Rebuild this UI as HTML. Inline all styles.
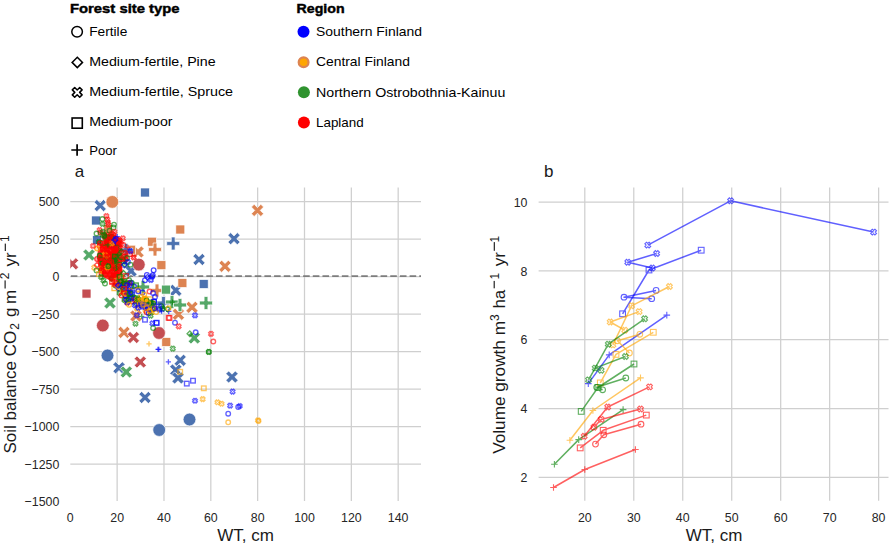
<!DOCTYPE html><html><head><meta charset="utf-8"><style>html,body{margin:0;padding:0;background:#fff;overflow:hidden}svg{display:block}text{font-family:"Liberation Sans",sans-serif}</style></head><body>
<svg width="890" height="543" viewBox="0 0 890 543">
<rect width="890" height="543" fill="#fff"/>
<g font-family="Liberation Sans, sans-serif" fill="#000">
<text x="70" y="12.9" font-size="13.3" font-weight="bold" stroke="#000" stroke-width="0.45" textLength="109.5" lengthAdjust="spacingAndGlyphs">Forest site type</text>
<text x="296.6" y="12.9" font-size="13.3" font-weight="bold" stroke="#000" stroke-width="0.45" textLength="48" lengthAdjust="spacingAndGlyphs">Region</text>
<text x="89.2" y="36.2" font-size="13.1" textLength="38.1" lengthAdjust="spacingAndGlyphs">Fertile</text>
<text x="89.2" y="65.9" font-size="13.1" textLength="126.4" lengthAdjust="spacingAndGlyphs">Medium-fertile, Pine</text>
<text x="89.2" y="95.5" font-size="13.1" textLength="143.9" lengthAdjust="spacingAndGlyphs">Medium-fertile, Spruce</text>
<text x="89.2" y="126.2" font-size="13.1" textLength="83.3" lengthAdjust="spacingAndGlyphs">Medium-poor</text>
<text x="89.2" y="154.8" font-size="13.1" textLength="27.7" lengthAdjust="spacingAndGlyphs">Poor</text>
<text x="316" y="36.2" font-size="13.1" textLength="106" lengthAdjust="spacingAndGlyphs">Southern Finland</text>
<text x="316" y="66.3" font-size="13.1" textLength="93.9" lengthAdjust="spacingAndGlyphs">Central Finland</text>
<text x="316" y="96.5" font-size="13.1" textLength="189.3" lengthAdjust="spacingAndGlyphs">Northern Ostrobothnia-Kainuu</text>
<text x="316" y="126.6" font-size="13.1" textLength="47.7" lengthAdjust="spacingAndGlyphs">Lapland</text>
</g>
<circle cx="77.1" cy="31.8" r="5.3" fill="none" stroke="#000" stroke-width="1.5"/>
<polygon points="77.3,57.2 82.5,62.4 77.3,67.6 72.1,62.4" fill="none" stroke="#000" stroke-width="1.5"/>
<polygon points="79.7,87.5 82.1,89.9 79.6,92.4 82.1,94.9 79.7,97.3 77.2,94.8 74.7,97.3 72.3,94.9 74.8,92.4 72.3,89.9 74.7,87.5 77.2,90" fill="none" stroke="#000" stroke-width="1.5" stroke-linejoin="round"/>
<rect x="72.1" y="118" width="10.2" height="10.2" fill="none" stroke="#000" stroke-width="1.6"/>
<path d="M71.3 150H82.9M77.1 144.2V155.8" stroke="#000" stroke-width="1.7" fill="none"/>
<circle cx="303.5" cy="31.7" r="6" fill="#0000ff"/>
<circle cx="303.6" cy="62.3" r="4.9" fill="#ffa500" stroke="#dd8452" stroke-width="2.2"/>
<circle cx="303.9" cy="92.3" r="6" fill="#2f932f"/>
<circle cx="303.9" cy="122.4" r="6" fill="#ff0000"/>
<g stroke="#cfcfcf" stroke-width="1.25" fill="none">
<line x1="117.14" y1="187.5" x2="117.14" y2="501"/>
<line x1="163.98" y1="187.5" x2="163.98" y2="501"/>
<line x1="210.82" y1="187.5" x2="210.82" y2="501"/>
<line x1="257.66" y1="187.5" x2="257.66" y2="501"/>
<line x1="304.5" y1="187.5" x2="304.5" y2="501"/>
<line x1="351.34" y1="187.5" x2="351.34" y2="501"/>
<line x1="398.18" y1="187.5" x2="398.18" y2="501"/>
<line x1="70.3" y1="464.1" x2="421" y2="464.1"/>
<line x1="70.3" y1="426.6" x2="421" y2="426.6"/>
<line x1="70.3" y1="389.1" x2="421" y2="389.1"/>
<line x1="70.3" y1="351.6" x2="421" y2="351.6"/>
<line x1="70.3" y1="314.1" x2="421" y2="314.1"/>
<line x1="70.3" y1="276.6" x2="421" y2="276.6"/>
<line x1="70.3" y1="239.1" x2="421" y2="239.1"/>
<line x1="70.3" y1="201.6" x2="421" y2="201.6"/>
</g>
<g stroke="#cfcfcf" stroke-width="1.25" fill="none">
<line x1="584.8" y1="187.5" x2="584.8" y2="500.8"/>
<line x1="633.77" y1="187.5" x2="633.77" y2="500.8"/>
<line x1="682.74" y1="187.5" x2="682.74" y2="500.8"/>
<line x1="731.71" y1="187.5" x2="731.71" y2="500.8"/>
<line x1="780.68" y1="187.5" x2="780.68" y2="500.8"/>
<line x1="829.65" y1="187.5" x2="829.65" y2="500.8"/>
<line x1="878.62" y1="187.5" x2="878.62" y2="500.8"/>
<line x1="538.6" y1="477.38" x2="888.5" y2="477.38"/>
<line x1="538.6" y1="408.56" x2="888.5" y2="408.56"/>
<line x1="538.6" y1="339.74" x2="888.5" y2="339.74"/>
<line x1="538.6" y1="270.92" x2="888.5" y2="270.92"/>
<line x1="538.6" y1="202.1" x2="888.5" y2="202.1"/>
</g>
<g font-size="13.3" fill="#262626" font-family="Liberation Sans, sans-serif">
<text x="66.86" y="521.9" textLength="6.88" lengthAdjust="spacingAndGlyphs">0</text>
<text x="110.26" y="521.9" textLength="13.76" lengthAdjust="spacingAndGlyphs">20</text>
<text x="157.1" y="521.9" textLength="13.76" lengthAdjust="spacingAndGlyphs">40</text>
<text x="203.94" y="521.9" textLength="13.76" lengthAdjust="spacingAndGlyphs">60</text>
<text x="250.78" y="521.9" textLength="13.76" lengthAdjust="spacingAndGlyphs">80</text>
<text x="294.18" y="521.9" textLength="20.64" lengthAdjust="spacingAndGlyphs">100</text>
<text x="341.02" y="521.9" textLength="20.64" lengthAdjust="spacingAndGlyphs">120</text>
<text x="387.86" y="521.9" textLength="20.64" lengthAdjust="spacingAndGlyphs">140</text>
<text x="24.56" y="506.3" textLength="34.74" lengthAdjust="spacingAndGlyphs">−1500</text>
<text x="24.56" y="468.8" textLength="34.74" lengthAdjust="spacingAndGlyphs">−1250</text>
<text x="24.56" y="431.3" textLength="34.74" lengthAdjust="spacingAndGlyphs">−1000</text>
<text x="31.44" y="393.8" textLength="27.86" lengthAdjust="spacingAndGlyphs">−750</text>
<text x="31.44" y="356.3" textLength="27.86" lengthAdjust="spacingAndGlyphs">−500</text>
<text x="31.44" y="318.8" textLength="27.86" lengthAdjust="spacingAndGlyphs">−250</text>
<text x="52.42" y="281.3" textLength="6.88" lengthAdjust="spacingAndGlyphs">0</text>
<text x="38.66" y="243.8" textLength="20.64" lengthAdjust="spacingAndGlyphs">250</text>
<text x="38.66" y="206.3" textLength="20.64" lengthAdjust="spacingAndGlyphs">500</text>
<text x="577.92" y="521.9" textLength="13.76" lengthAdjust="spacingAndGlyphs">20</text>
<text x="626.89" y="521.9" textLength="13.76" lengthAdjust="spacingAndGlyphs">30</text>
<text x="675.86" y="521.9" textLength="13.76" lengthAdjust="spacingAndGlyphs">40</text>
<text x="724.83" y="521.9" textLength="13.76" lengthAdjust="spacingAndGlyphs">50</text>
<text x="773.8" y="521.9" textLength="13.76" lengthAdjust="spacingAndGlyphs">60</text>
<text x="822.77" y="521.9" textLength="13.76" lengthAdjust="spacingAndGlyphs">70</text>
<text x="871.74" y="521.9" textLength="13.76" lengthAdjust="spacingAndGlyphs">80</text>
<text x="520.52" y="482.08" textLength="6.88" lengthAdjust="spacingAndGlyphs">2</text>
<text x="520.52" y="413.26" textLength="6.88" lengthAdjust="spacingAndGlyphs">4</text>
<text x="520.52" y="344.44" textLength="6.88" lengthAdjust="spacingAndGlyphs">6</text>
<text x="520.52" y="275.62" textLength="6.88" lengthAdjust="spacingAndGlyphs">8</text>
<text x="513.64" y="206.8" textLength="13.76" lengthAdjust="spacingAndGlyphs">10</text>
</g>
<g font-size="17" fill="#1a1a1a" font-family="Liberation Sans, sans-serif">
<text x="245.6" y="540.8" text-anchor="middle">WT, cm</text>
<text x="714" y="540.8" text-anchor="middle">WT, cm</text>
<text x="74.8" y="176.8">a</text>
<text x="544" y="176.8">b</text>
<g transform="translate(15.8,453.6) rotate(-90)">
<text x="0" y="0" font-size="17">Soil balance CO</text>
<text x="123.8" y="3.5" font-size="12">2</text>
<text x="136.6" y="0" font-size="17">g</text>
<text x="149.6" y="0" font-size="17">m</text>
<rect x="165.1" y="-11.27" width="8.1" height="1.15" fill="#1a1a1a"/>
<text x="174.4" y="-6.6" font-size="12">2</text>
<text x="187" y="0" font-size="17">yr</text>
<rect x="202.6" y="-11.07" width="7.4" height="1.15" fill="#1a1a1a"/>
<text x="211.5" y="-6.6" font-size="12">1</text>
</g>
<g transform="translate(505.3,453.8) rotate(-90)">
<text x="0" y="0" font-size="17.2">Volume growth m</text>
<text x="132.9" y="-6.1" font-size="12">3</text>
<text x="145.2" y="0" font-size="17">ha</text>
<rect x="165.5" y="-11.67" width="7.4" height="1.15" fill="#1a1a1a"/>
<text x="174.4" y="-6.1" font-size="12">1</text>
<text x="187.6" y="0" font-size="17">yr</text>
<rect x="203" y="-11.57" width="8.7" height="1.15" fill="#1a1a1a"/>
<text x="211.2" y="-6.1" font-size="12">1</text>
</g>
</g>
<svg x="70.3" y="187.5" width="350.7" height="313.5" viewBox="70.3 187.5 350.7 313.5" overflow="hidden">
<line x1="70.8" y1="276.1" x2="421" y2="276.1" stroke="#7d7d7d" stroke-width="1.85" stroke-dasharray="6.6 3.08"/>
<polygon points="103.54,199.5 106.3,202.26 102.96,205.6 106.3,208.94 103.54,211.7 100.2,208.36 96.86,211.7 94.1,208.94 97.44,205.6 94.1,202.26 96.86,199.5 100.2,202.84" fill="#4c72b0" stroke="#fff" stroke-width="0.7"/>
<rect x="140.5" y="188" width="9" height="9" fill="#4c72b0" stroke="#fff" stroke-width="0.7"/>
<rect x="91.5" y="216" width="9" height="9" fill="#4c72b0" stroke="#fff" stroke-width="0.7"/>
<rect x="92.5" y="235.5" width="9" height="9" fill="#4c72b0" stroke="#fff" stroke-width="0.7"/>
<polygon points="171.3,237 175.1,237 175.1,241.6 179.7,241.6 179.7,245.4 175.1,245.4 175.1,250 171.3,250 171.3,245.4 166.7,245.4 166.7,241.6 171.3,241.6" fill="#4c72b0" stroke="#fff" stroke-width="0.7"/>
<polygon points="237.34,232.6 240.1,235.36 236.76,238.7 240.1,242.04 237.34,244.8 234,241.46 230.66,244.8 227.9,242.04 231.24,238.7 227.9,235.36 230.66,232.6 234,235.94" fill="#4c72b0" stroke="#fff" stroke-width="0.7"/>
<polygon points="202.34,253.4 205.1,256.16 201.76,259.5 205.1,262.84 202.34,265.6 199,262.26 195.66,265.6 192.9,262.84 196.24,259.5 192.9,256.16 195.66,253.4 199,256.74" fill="#4c72b0" stroke="#fff" stroke-width="0.7"/>
<rect x="199.2" y="279.5" width="9" height="9" fill="#4c72b0" stroke="#fff" stroke-width="0.7"/>
<polygon points="179.14,284.2 181.9,286.96 178.56,290.3 181.9,293.64 179.14,296.4 175.8,293.06 172.46,296.4 169.7,293.64 173.04,290.3 169.7,286.96 172.46,284.2 175.8,287.54" fill="#4c72b0" stroke="#fff" stroke-width="0.7"/>
<circle cx="107.5" cy="355.5" r="6.4" fill="#4c72b0" stroke="#fff" stroke-width="0.7"/>
<polygon points="122.34,361.7 125.1,364.46 121.76,367.8 125.1,371.14 122.34,373.9 119,370.56 115.66,373.9 112.9,371.14 116.24,367.8 112.9,364.46 115.66,361.7 119,365.04" fill="#4c72b0" stroke="#fff" stroke-width="0.7"/>
<polygon points="148.34,391.4 151.1,394.16 147.76,397.5 151.1,400.84 148.34,403.6 145,400.26 141.66,403.6 138.9,400.84 142.24,397.5 138.9,394.16 141.66,391.4 145,394.74" fill="#4c72b0" stroke="#fff" stroke-width="0.7"/>
<polygon points="183.54,354.2 186.3,356.96 182.96,360.3 186.3,363.64 183.54,366.4 180.2,363.06 176.86,366.4 174.1,363.64 177.44,360.3 174.1,356.96 176.86,354.2 180.2,357.54" fill="#4c72b0" stroke="#fff" stroke-width="0.7"/>
<polygon points="179.14,363.9 181.9,366.66 178.56,370 181.9,373.34 179.14,376.1 175.8,372.76 172.46,376.1 169.7,373.34 173.04,370 169.7,366.66 172.46,363.9 175.8,367.24" fill="#4c72b0" stroke="#fff" stroke-width="0.7"/>
<polygon points="181.34,371.9 184.1,374.66 180.76,378 184.1,381.34 181.34,384.1 178,380.76 174.66,384.1 171.9,381.34 175.24,378 171.9,374.66 174.66,371.9 178,375.24" fill="#4c72b0" stroke="#fff" stroke-width="0.7"/>
<polygon points="235.34,370.9 238.1,373.66 234.76,377 238.1,380.34 235.34,383.1 232,379.76 228.66,383.1 225.9,380.34 229.24,377 225.9,373.66 228.66,370.9 232,374.24" fill="#4c72b0" stroke="#fff" stroke-width="0.7"/>
<circle cx="159.2" cy="430" r="6.4" fill="#4c72b0" stroke="#fff" stroke-width="0.7"/>
<circle cx="189.5" cy="419.5" r="6.4" fill="#4c72b0" stroke="#fff" stroke-width="0.7"/>
<polygon points="134.34,264.9 137.1,267.66 133.76,271 137.1,274.34 134.34,277.1 131,273.76 127.66,277.1 124.9,274.34 128.24,271 124.9,267.66 127.66,264.9 131,268.24" fill="#4c72b0" stroke="#fff" stroke-width="0.7"/>
<circle cx="112.3" cy="201.9" r="6.4" fill="#dd8452" stroke="#fff" stroke-width="0.7"/>
<polygon points="260.84,204.3 263.6,207.06 260.26,210.4 263.6,213.74 260.84,216.5 257.5,213.16 254.16,216.5 251.4,213.74 254.74,210.4 251.4,207.06 254.16,204.3 257.5,207.64" fill="#dd8452" stroke="#fff" stroke-width="0.7"/>
<rect x="175.8" y="225" width="9" height="9" fill="#dd8452" stroke="#fff" stroke-width="0.7"/>
<rect x="147.5" y="237.2" width="9" height="9" fill="#dd8452" stroke="#fff" stroke-width="0.7"/>
<polygon points="153.1,243 156.9,243 156.9,247.6 161.5,247.6 161.5,251.4 156.9,251.4 156.9,256 153.1,256 153.1,251.4 148.5,251.4 148.5,247.6 153.1,247.6" fill="#dd8452" stroke="#fff" stroke-width="0.7"/>
<polygon points="141.34,245.9 144.1,248.66 140.76,252 144.1,255.34 141.34,258.1 138,254.76 134.66,258.1 131.9,255.34 135.24,252 131.9,248.66 134.66,245.9 138,249.24" fill="#dd8452" stroke="#fff" stroke-width="0.7"/>
<rect x="126.5" y="245.2" width="9" height="9" fill="#dd8452" stroke="#fff" stroke-width="0.7"/>
<polygon points="228.34,260.2 231.1,262.96 227.76,266.3 231.1,269.64 228.34,272.4 225,269.06 221.66,272.4 218.9,269.64 222.24,266.3 218.9,262.96 221.66,260.2 225,263.54" fill="#dd8452" stroke="#fff" stroke-width="0.7"/>
<rect x="156.9" y="260.7" width="9" height="9" fill="#dd8452" stroke="#fff" stroke-width="0.7"/>
<rect x="177.9" y="278.5" width="9" height="9" fill="#dd8452" stroke="#fff" stroke-width="0.7"/>
<polygon points="155.1,284 158.9,284 158.9,288.6 163.5,288.6 163.5,292.4 158.9,292.4 158.9,297 155.1,297 155.1,292.4 150.5,292.4 150.5,288.6 155.1,288.6" fill="#dd8452" stroke="#fff" stroke-width="0.7"/>
<polygon points="195.34,301.2 198.1,303.96 194.76,307.3 198.1,310.64 195.34,313.4 192,310.06 188.66,313.4 185.9,310.64 189.24,307.3 185.9,303.96 188.66,301.2 192,304.54" fill="#dd8452" stroke="#fff" stroke-width="0.7"/>
<polygon points="181.74,308.2 184.5,310.96 181.16,314.3 184.5,317.64 181.74,320.4 178.4,317.06 175.06,320.4 172.3,317.64 175.64,314.3 172.3,310.96 175.06,308.2 178.4,311.54" fill="#dd8452" stroke="#fff" stroke-width="0.7"/>
<polygon points="139.34,309.9 142.1,312.66 138.76,316 142.1,319.34 139.34,322.1 136,318.76 132.66,322.1 129.9,319.34 133.24,316 129.9,312.66 132.66,309.9 136,313.24" fill="#dd8452" stroke="#fff" stroke-width="0.7"/>
<polygon points="127.34,326.3 130.1,329.06 126.76,332.4 130.1,335.74 127.34,338.5 124,335.16 120.66,338.5 117.9,335.74 121.24,332.4 117.9,329.06 120.66,326.3 124,329.64" fill="#dd8452" stroke="#fff" stroke-width="0.7"/>
<rect x="161.8" y="337.5" width="9" height="9" fill="#dd8452" stroke="#fff" stroke-width="0.7"/>
<rect x="103.5" y="224.5" width="9" height="9" fill="#dd8452" stroke="#fff" stroke-width="0.7"/>
<polygon points="92.34,248.9 95.1,251.66 91.76,255 95.1,258.34 92.34,261.1 89,257.76 85.66,261.1 82.9,258.34 86.24,255 82.9,251.66 85.66,248.9 89,252.24" fill="#55a868" stroke="#fff" stroke-width="0.7"/>
<polygon points="113.34,296.9 116.1,299.66 112.76,303 116.1,306.34 113.34,309.1 110,305.76 106.66,309.1 103.9,306.34 107.24,303 103.9,299.66 106.66,296.9 110,300.24" fill="#55a868" stroke="#fff" stroke-width="0.7"/>
<rect x="161.5" y="285.1" width="9" height="9" fill="#55a868" stroke="#fff" stroke-width="0.7"/>
<polygon points="161.6,296.5 165.4,296.5 165.4,301.1 170,301.1 170,304.9 165.4,304.9 165.4,309.5 161.6,309.5 161.6,304.9 157,304.9 157,301.1 161.6,301.1" fill="#4c72b0" stroke="#fff" stroke-width="0.7"/>
<polygon points="170.1,295.5 173.9,295.5 173.9,300.1 178.5,300.1 178.5,303.9 173.9,303.9 173.9,308.5 170.1,308.5 170.1,303.9 165.5,303.9 165.5,300.1 170.1,300.1" fill="#55a868" stroke="#fff" stroke-width="0.7"/>
<polygon points="178.1,298.5 181.9,298.5 181.9,303.1 186.5,303.1 186.5,306.9 181.9,306.9 181.9,311.5 178.1,311.5 178.1,306.9 173.5,306.9 173.5,303.1 178.1,303.1" fill="#55a868" stroke="#fff" stroke-width="0.7"/>
<polygon points="204.1,296.5 207.9,296.5 207.9,301.1 212.5,301.1 212.5,304.9 207.9,304.9 207.9,309.5 204.1,309.5 204.1,304.9 199.5,304.9 199.5,301.1 204.1,301.1" fill="#55a868" stroke="#fff" stroke-width="0.7"/>
<polygon points="197.64,331.9 200.4,334.66 197.06,338 200.4,341.34 197.64,344.1 194.3,340.76 190.96,344.1 188.2,341.34 191.54,338 188.2,334.66 190.96,331.9 194.3,335.24" fill="#55a868" stroke="#fff" stroke-width="0.7"/>
<polygon points="129.64,365.9 132.4,368.66 129.06,372 132.4,375.34 129.64,378.1 126.3,374.76 122.96,378.1 120.2,375.34 123.54,372 120.2,368.66 122.96,365.9 126.3,369.24" fill="#55a868" stroke="#fff" stroke-width="0.7"/>
<polygon points="141.1,280.5 144.9,280.5 144.9,285.1 149.5,285.1 149.5,288.9 144.9,288.9 144.9,293.5 141.1,293.5 141.1,288.9 136.5,288.9 136.5,285.1 141.1,285.1" fill="#55a868" stroke="#fff" stroke-width="0.7"/>
<polygon points="75.84,257.7 78.6,260.46 75.26,263.8 78.6,267.14 75.84,269.9 72.5,266.56 69.16,269.9 66.4,267.14 69.74,263.8 66.4,260.46 69.16,257.7 72.5,261.04" fill="#c44e52" stroke="#fff" stroke-width="0.7"/>
<rect x="82" y="289.1" width="9" height="9" fill="#c44e52" stroke="#fff" stroke-width="0.7"/>
<circle cx="102.8" cy="325.5" r="6.4" fill="#c44e52" stroke="#fff" stroke-width="0.7"/>
<circle cx="138.8" cy="264.6" r="6.4" fill="#c44e52" stroke="#fff" stroke-width="0.7"/>
<polygon points="136.74,331.4 139.5,334.16 136.16,337.5 139.5,340.84 136.74,343.6 133.4,340.26 130.06,343.6 127.3,340.84 130.64,337.5 127.3,334.16 130.06,331.4 133.4,334.74" fill="#c44e52" stroke="#fff" stroke-width="0.7"/>
<circle cx="159" cy="333" r="6.4" fill="#c44e52" stroke="#fff" stroke-width="0.7"/>
<polygon points="143.64,355.9 146.4,358.66 143.06,362 146.4,365.34 143.64,368.1 140.3,364.76 136.96,368.1 134.2,365.34 137.54,362 134.2,358.66 136.96,355.9 140.3,359.24" fill="#c44e52" stroke="#fff" stroke-width="0.7"/>
<polygon points="124.1,243.5 127.9,243.5 127.9,248.1 132.5,248.1 132.5,251.9 127.9,251.9 127.9,256.5 124.1,256.5 124.1,251.9 119.5,251.9 119.5,248.1 124.1,248.1" fill="#4c72b0" stroke="#fff" stroke-width="0.7"/>
<path d="M101,244 L112,241 L120,244 L122,250 L122,262 L122,272 L119,279 L111,281 L105,278 L99,270 L97,258 L98,249 Z" fill="#ff0a0a" opacity="0.88"/>
<circle cx="105.72" cy="237.02" r="2.34" fill="none" stroke="#008000" stroke-width="1.25" stroke-opacity="0.7"/>
<circle cx="107.96" cy="235.2" r="2.34" fill="none" stroke="#ff0000" stroke-width="1.25" stroke-opacity="0.7"/>
<polygon points="108.51,234.44 109.85,235.78 108.8,236.83 109.85,237.88 108.51,239.21 107.47,238.16 106.42,239.21 105.08,237.88 106.13,236.83 105.08,235.78 106.42,234.44 107.47,235.49" fill="none" stroke="#ff0000" stroke-width="1.25" stroke-opacity="0.7"/>
<circle cx="111.43" cy="237.13" r="2.34" fill="none" stroke="#008000" stroke-width="1.25" stroke-opacity="0.7"/>
<circle cx="113.68" cy="235.08" r="2.34" fill="none" stroke="#ff0000" stroke-width="1.25" stroke-opacity="0.7"/>
<circle cx="102.55" cy="235.06" r="2.34" fill="none" stroke="#008000" stroke-width="1.25" stroke-opacity="0.7"/>
<circle cx="104.49" cy="235.63" r="2.34" fill="none" stroke="#ff0000" stroke-width="1.25" stroke-opacity="0.7"/>
<polygon points="111.22,234.77 112.56,236.11 111.51,237.16 112.56,238.21 111.22,239.54 110.17,238.49 109.12,239.54 107.79,238.21 108.83,237.16 107.79,236.11 109.12,234.77 110.17,235.82" fill="none" stroke="#008000" stroke-width="1.25" stroke-opacity="0.7"/>
<circle cx="112.19" cy="237.57" r="2.34" fill="none" stroke="#ff0000" stroke-width="1.25" stroke-opacity="0.7"/>
<polygon points="106.33,233.4 107.66,234.74 106.62,235.79 107.66,236.84 106.33,238.17 105.28,237.12 104.23,238.17 102.89,236.84 103.94,235.79 102.89,234.74 104.23,233.4 105.28,234.45" fill="none" stroke="#ff0000" stroke-width="1.25" stroke-opacity="0.7"/>
<rect x="100.5" y="240.74" width="4.68" height="4.68" fill="#008000" fill-opacity="0.25" stroke="#008000" stroke-width="1.25" stroke-opacity="0.7"/>
<path d="M101.58 241.31H106.98M104.28 238.61V244.01" fill="#ff0000" fill-opacity="0.25" stroke="#ff0000" stroke-width="1.25" stroke-opacity="0.7"/>
<polygon points="113.76,245.33 115.1,246.67 114.05,247.72 115.1,248.77 113.76,250.1 112.72,249.06 111.67,250.1 110.33,248.77 111.38,247.72 110.33,246.67 111.67,245.33 112.72,246.38" fill="#ff0000" fill-opacity="0.25" stroke="#ff0000" stroke-width="1.25" stroke-opacity="0.7"/>
<polygon points="99.98,239.65 101.31,240.99 100.26,242.04 101.31,243.08 99.98,244.42 98.93,243.37 97.88,244.42 96.54,243.08 97.59,242.04 96.54,240.99 97.88,239.65 98.93,240.7" fill="#008000" fill-opacity="0.25" stroke="#008000" stroke-width="1.25" stroke-opacity="0.7"/>
<polygon points="108.54,239.88 109.87,241.21 108.83,242.26 109.87,243.31 108.54,244.65 107.49,243.6 106.44,244.65 105.1,243.31 106.15,242.26 105.1,241.21 106.44,239.88 107.49,240.92" fill="#ff0000" fill-opacity="0.25" stroke="#ff0000" stroke-width="1.25" stroke-opacity="0.7"/>
<circle cx="109.13" cy="241.28" r="2.34" fill="#ff0000" fill-opacity="0.25" stroke="#ff0000" stroke-width="1.25" stroke-opacity="0.7"/>
<path d="M108.25 242.71H113.65M110.95 240.01V245.41" fill="#ff0000" fill-opacity="0.25" stroke="#ff0000" stroke-width="1.25" stroke-opacity="0.7"/>
<circle cx="112.08" cy="241.16" r="2.34" fill="#ff0000" fill-opacity="0.25" stroke="#ff0000" stroke-width="1.25" stroke-opacity="0.7"/>
<circle cx="100.07" cy="243.11" r="2.34" fill="#ff0000" fill-opacity="0.25" stroke="#ff0000" stroke-width="1.25" stroke-opacity="0.7"/>
<circle cx="114.33" cy="241.84" r="2.34" fill="#ff0000" fill-opacity="0.25" stroke="#ff0000" stroke-width="1.25" stroke-opacity="0.7"/>
<polygon points="108.49,237.65 111.28,240.44 108.49,243.23 105.7,240.44" fill="#ff0000" fill-opacity="0.25" stroke="#ff0000" stroke-width="1.25" stroke-opacity="0.7"/>
<polygon points="110.79,238 113.58,240.79 110.79,243.58 108,240.79" fill="#ff0000" fill-opacity="0.25" stroke="#ff0000" stroke-width="1.25" stroke-opacity="0.7"/>
<circle cx="102.2" cy="248.85" r="2.34" fill="#ff0000" fill-opacity="0.25" stroke="#ff0000" stroke-width="1.25" stroke-opacity="0.7"/>
<polygon points="111.34,241.32 112.68,242.65 111.63,243.7 112.68,244.75 111.34,246.09 110.29,245.04 109.24,246.09 107.91,244.75 108.96,243.7 107.91,242.65 109.24,241.32 110.29,242.37" fill="#008000" fill-opacity="0.25" stroke="#008000" stroke-width="1.25" stroke-opacity="0.7"/>
<rect x="106.29" y="237.65" width="4.68" height="4.68" fill="#008000" fill-opacity="0.25" stroke="#008000" stroke-width="1.25" stroke-opacity="0.7"/>
<polygon points="114.82,242.2 116.16,243.54 115.11,244.59 116.16,245.64 114.82,246.97 113.78,245.93 112.73,246.97 111.39,245.64 112.44,244.59 111.39,243.54 112.73,242.2 113.78,243.25" fill="#ff0000" fill-opacity="0.25" stroke="#ff0000" stroke-width="1.25" stroke-opacity="0.7"/>
<rect x="110.87" y="235.23" width="4.68" height="4.68" fill="#ff0000" fill-opacity="0.25" stroke="#ff0000" stroke-width="1.25" stroke-opacity="0.7"/>
<polygon points="117.6,240.23 118.93,241.57 117.89,242.61 118.93,243.66 117.6,245 116.55,243.95 115.5,245 114.16,243.66 115.21,242.61 114.16,241.57 115.5,240.23 116.55,241.28" fill="#ff0000" fill-opacity="0.25" stroke="#ff0000" stroke-width="1.25" stroke-opacity="0.7"/>
<polygon points="111.86,242.13 113.2,243.47 112.15,244.52 113.2,245.57 111.86,246.9 110.82,245.85 109.77,246.9 108.43,245.57 109.48,244.52 108.43,243.47 109.77,242.13 110.82,243.18" fill="#ff0000" fill-opacity="0.25" stroke="#ff0000" stroke-width="1.25" stroke-opacity="0.7"/>
<polygon points="119.45,241.04 120.79,242.38 119.74,243.43 120.79,244.48 119.45,245.81 118.4,244.76 117.35,245.81 116.02,244.48 117.07,243.43 116.02,242.38 117.35,241.04 118.4,242.09" fill="#ff0000" fill-opacity="0.25" stroke="#ff0000" stroke-width="1.25" stroke-opacity="0.7"/>
<circle cx="114.21" cy="243.08" r="2.34" fill="#ff0000" fill-opacity="0.25" stroke="#ff0000" stroke-width="1.25" stroke-opacity="0.7"/>
<circle cx="107.92" cy="244.41" r="2.34" fill="#008000" fill-opacity="0.25" stroke="#008000" stroke-width="1.25" stroke-opacity="0.7"/>
<path d="M101.69 238.93H107.09M104.39 236.23V241.63" fill="#ff0000" fill-opacity="0.25" stroke="#ff0000" stroke-width="1.25" stroke-opacity="0.7"/>
<rect x="108.57" y="234.66" width="4.68" height="4.68" fill="#008000" fill-opacity="0.25" stroke="#008000" stroke-width="1.25" stroke-opacity="0.7"/>
<rect x="102.65" y="242.45" width="4.68" height="4.68" fill="#ff0000" fill-opacity="0.25" stroke="#ff0000" stroke-width="1.25" stroke-opacity="0.7"/>
<polygon points="111.77,241.04 113.11,242.38 112.06,243.43 113.11,244.48 111.77,245.81 110.73,244.76 109.68,245.81 108.34,244.48 109.39,243.43 108.34,242.38 109.68,241.04 110.73,242.09" fill="#ff0000" fill-opacity="0.25" stroke="#ff0000" stroke-width="1.25" stroke-opacity="0.7"/>
<circle cx="114.22" cy="245.59" r="2.34" fill="#ff0000" fill-opacity="0.25" stroke="#ff0000" stroke-width="1.25" stroke-opacity="0.7"/>
<circle cx="110.34" cy="244.13" r="2.34" fill="#ff0000" fill-opacity="0.25" stroke="#ff0000" stroke-width="1.25" stroke-opacity="0.7"/>
<polygon points="112.09,241.09 114.88,243.88 112.09,246.67 109.3,243.88" fill="#ff0000" fill-opacity="0.25" stroke="#ff0000" stroke-width="1.25" stroke-opacity="0.7"/>
<circle cx="108.93" cy="245.77" r="2.34" fill="#ff0000" fill-opacity="0.25" stroke="#ff0000" stroke-width="1.25" stroke-opacity="0.7"/>
<rect x="110.99" y="242.96" width="4.68" height="4.68" fill="#0000ff" fill-opacity="0.25" stroke="#0000ff" stroke-width="1.25" stroke-opacity="0.7"/>
<polygon points="107.94,240.74 109.28,242.08 108.23,243.13 109.28,244.18 107.94,245.51 106.89,244.47 105.84,245.51 104.51,244.18 105.56,243.13 104.51,242.08 105.84,240.74 106.89,241.79" fill="#ff0000" fill-opacity="0.25" stroke="#ff0000" stroke-width="1.25" stroke-opacity="0.7"/>
<circle cx="108.65" cy="239.58" r="2.34" fill="#ff0000" fill-opacity="0.25" stroke="#ff0000" stroke-width="1.25" stroke-opacity="0.7"/>
<polygon points="122.2,241.68 123.54,243.02 122.49,244.07 123.54,245.11 122.2,246.45 121.15,245.4 120.1,246.45 118.77,245.11 119.81,244.07 118.77,243.02 120.1,241.68 121.15,242.73" fill="#ff0000" fill-opacity="0.25" stroke="#ff0000" stroke-width="1.25" stroke-opacity="0.7"/>
<polygon points="105.97,234.43 107.31,235.77 106.26,236.82 107.31,237.87 105.97,239.2 104.93,238.15 103.88,239.2 102.54,237.87 103.59,236.82 102.54,235.77 103.88,234.43 104.93,235.48" fill="#008000" fill-opacity="0.25" stroke="#008000" stroke-width="1.25" stroke-opacity="0.7"/>
<polygon points="119.93,239.81 121.27,241.15 120.22,242.19 121.27,243.24 119.93,244.58 118.88,243.53 117.84,244.58 116.5,243.24 117.55,242.19 116.5,241.15 117.84,239.81 118.88,240.86" fill="#ff0000" fill-opacity="0.25" stroke="#ff0000" stroke-width="1.25" stroke-opacity="0.7"/>
<polygon points="110.08,240.25 111.42,241.59 110.37,242.64 111.42,243.68 110.08,245.02 109.03,243.97 107.99,245.02 106.65,243.68 107.7,242.64 106.65,241.59 107.99,240.25 109.03,241.3" fill="#ff0000" fill-opacity="0.3" stroke="#ff0000" stroke-width="1.25" stroke-opacity="0.7"/>
<polygon points="111.44,243.59 112.78,244.92 111.73,245.97 112.78,247.02 111.44,248.36 110.39,247.31 109.35,248.36 108.01,247.02 109.06,245.97 108.01,244.92 109.35,243.59 110.39,244.64" fill="#ff0000" fill-opacity="0.3" stroke="#ff0000" stroke-width="1.25" stroke-opacity="0.7"/>
<polygon points="117.81,245.26 119.15,246.59 118.1,247.64 119.15,248.69 117.81,250.03 116.76,248.98 115.71,250.03 114.38,248.69 115.42,247.64 114.38,246.59 115.71,245.26 116.76,246.31" fill="#008000" fill-opacity="0.3" stroke="#008000" stroke-width="1.25" stroke-opacity="0.7"/>
<polygon points="124.68,259.07 126.02,260.4 124.97,261.45 126.02,262.5 124.68,263.84 123.63,262.79 122.59,263.84 121.25,262.5 122.3,261.45 121.25,260.4 122.59,259.07 123.63,260.11" fill="#008000" fill-opacity="0.3" stroke="#008000" stroke-width="1.25" stroke-opacity="0.7"/>
<circle cx="102.29" cy="263.11" r="2.34" fill="#008000" fill-opacity="0.3" stroke="#008000" stroke-width="1.25" stroke-opacity="0.7"/>
<circle cx="118.45" cy="259.66" r="2.34" fill="#ff0000" fill-opacity="0.3" stroke="#ff0000" stroke-width="1.25" stroke-opacity="0.7"/>
<polygon points="114.58,263.98 115.92,265.31 114.87,266.36 115.92,267.41 114.58,268.75 113.54,267.7 112.49,268.75 111.15,267.41 112.2,266.36 111.15,265.31 112.49,263.98 113.54,265.02" fill="#ffa500" fill-opacity="0.3" stroke="#ffa500" stroke-width="1.25" stroke-opacity="0.7"/>
<polygon points="114.2,263.02 115.54,264.36 114.49,265.41 115.54,266.46 114.2,267.79 113.15,266.75 112.11,267.79 110.77,266.46 111.82,265.41 110.77,264.36 112.11,263.02 113.15,264.07" fill="#ff0000" fill-opacity="0.3" stroke="#ff0000" stroke-width="1.25" stroke-opacity="0.7"/>
<circle cx="107.59" cy="252.63" r="2.34" fill="#ff0000" fill-opacity="0.3" stroke="#ff0000" stroke-width="1.25" stroke-opacity="0.7"/>
<path d="M115.21 262.29H120.61M117.91 259.59V264.99" fill="#008000" fill-opacity="0.3" stroke="#008000" stroke-width="1.25" stroke-opacity="0.7"/>
<rect x="117.09" y="246.01" width="4.68" height="4.68" fill="#ff0000" fill-opacity="0.3" stroke="#ff0000" stroke-width="1.25" stroke-opacity="0.7"/>
<polygon points="123.53,256.97 124.87,258.31 123.82,259.36 124.87,260.4 123.53,261.74 122.49,260.69 121.44,261.74 120.1,260.4 121.15,259.36 120.1,258.31 121.44,256.97 122.49,258.02" fill="#ff0000" fill-opacity="0.3" stroke="#ff0000" stroke-width="1.25" stroke-opacity="0.7"/>
<polygon points="104.07,247.35 106.86,250.14 104.07,252.93 101.28,250.14" fill="#ff0000" fill-opacity="0.3" stroke="#ff0000" stroke-width="1.25" stroke-opacity="0.7"/>
<polygon points="104.4,251.08 107.19,253.87 104.4,256.66 101.61,253.87" fill="#ffa500" fill-opacity="0.3" stroke="#ffa500" stroke-width="1.25" stroke-opacity="0.7"/>
<polygon points="110.01,266.24 112.8,269.03 110.01,271.82 107.22,269.03" fill="#ff0000" fill-opacity="0.3" stroke="#ff0000" stroke-width="1.25" stroke-opacity="0.7"/>
<polygon points="100.49,266.54 103.28,269.33 100.49,272.12 97.7,269.33" fill="#ffa500" fill-opacity="0.3" stroke="#ffa500" stroke-width="1.25" stroke-opacity="0.7"/>
<circle cx="112.35" cy="262.68" r="2.34" fill="#ff0000" fill-opacity="0.3" stroke="#ff0000" stroke-width="1.25" stroke-opacity="0.7"/>
<circle cx="111.69" cy="278.87" r="2.34" fill="#008000" fill-opacity="0.3" stroke="#008000" stroke-width="1.25" stroke-opacity="0.7"/>
<polygon points="115.09,255.89 116.43,257.23 115.38,258.27 116.43,259.32 115.09,260.66 114.04,259.61 112.99,260.66 111.66,259.32 112.71,258.27 111.66,257.23 112.99,255.89 114.04,256.94" fill="#ffa500" fill-opacity="0.3" stroke="#ffa500" stroke-width="1.25" stroke-opacity="0.7"/>
<polygon points="115.98,258.16 117.31,259.5 116.26,260.55 117.31,261.59 115.98,262.93 114.93,261.88 113.88,262.93 112.54,261.59 113.59,260.55 112.54,259.5 113.88,258.16 114.93,259.21" fill="#ff0000" fill-opacity="0.3" stroke="#ff0000" stroke-width="1.25" stroke-opacity="0.7"/>
<circle cx="107.88" cy="246.44" r="2.34" fill="#ff0000" fill-opacity="0.3" stroke="#ff0000" stroke-width="1.25" stroke-opacity="0.7"/>
<polygon points="108.54,253.53 109.87,254.87 108.83,255.92 109.87,256.97 108.54,258.3 107.49,257.25 106.44,258.3 105.1,256.97 106.15,255.92 105.1,254.87 106.44,253.53 107.49,254.58" fill="#008000" fill-opacity="0.3" stroke="#008000" stroke-width="1.25" stroke-opacity="0.7"/>
<circle cx="118.06" cy="266.56" r="2.34" fill="#008000" fill-opacity="0.3" stroke="#008000" stroke-width="1.25" stroke-opacity="0.7"/>
<circle cx="99.55" cy="245.89" r="2.34" fill="#ff0000" fill-opacity="0.3" stroke="#ff0000" stroke-width="1.25" stroke-opacity="0.7"/>
<path d="M101 265.38H106.4M103.7 262.68V268.08" fill="#008000" fill-opacity="0.3" stroke="#008000" stroke-width="1.25" stroke-opacity="0.7"/>
<polygon points="110.5,256.99 111.83,258.32 110.78,259.37 111.83,260.42 110.5,261.76 109.45,260.71 108.4,261.76 107.06,260.42 108.11,259.37 107.06,258.32 108.4,256.99 109.45,258.04" fill="#008000" fill-opacity="0.3" stroke="#008000" stroke-width="1.25" stroke-opacity="0.7"/>
<circle cx="103.17" cy="266.87" r="2.34" fill="#ff0000" fill-opacity="0.3" stroke="#ff0000" stroke-width="1.25" stroke-opacity="0.7"/>
<path d="M98.65 256.3H104.05M101.35 253.6V259" fill="#ff0000" fill-opacity="0.3" stroke="#ff0000" stroke-width="1.25" stroke-opacity="0.7"/>
<polygon points="126.59,256.49 127.93,257.83 126.88,258.87 127.93,259.92 126.59,261.26 125.54,260.21 124.49,261.26 123.16,259.92 124.21,258.87 123.16,257.83 124.49,256.49 125.54,257.54" fill="#ff0000" fill-opacity="0.3" stroke="#ff0000" stroke-width="1.25" stroke-opacity="0.7"/>
<circle cx="97.1" cy="259.07" r="2.34" fill="#ff0000" fill-opacity="0.3" stroke="#ff0000" stroke-width="1.25" stroke-opacity="0.7"/>
<polygon points="111.04,272.51 112.38,273.84 111.33,274.89 112.38,275.94 111.04,277.28 109.99,276.23 108.94,277.28 107.61,275.94 108.65,274.89 107.61,273.84 108.94,272.51 109.99,273.55" fill="#ff0000" fill-opacity="0.3" stroke="#ff0000" stroke-width="1.25" stroke-opacity="0.7"/>
<polygon points="114.52,248.54 117.31,251.33 114.52,254.12 111.73,251.33" fill="#ff0000" fill-opacity="0.3" stroke="#ff0000" stroke-width="1.25" stroke-opacity="0.7"/>
<circle cx="101.07" cy="259.03" r="2.34" fill="#008000" fill-opacity="0.3" stroke="#008000" stroke-width="1.25" stroke-opacity="0.7"/>
<polygon points="117.05,266.57 118.38,267.91 117.33,268.96 118.38,270.01 117.05,271.34 116,270.3 114.95,271.34 113.61,270.01 114.66,268.96 113.61,267.91 114.95,266.57 116,267.62" fill="#008000" fill-opacity="0.3" stroke="#008000" stroke-width="1.25" stroke-opacity="0.7"/>
<rect x="117.37" y="269.18" width="4.68" height="4.68" fill="#ff0000" fill-opacity="0.3" stroke="#ff0000" stroke-width="1.25" stroke-opacity="0.7"/>
<circle cx="107.58" cy="261.95" r="2.34" fill="#ff0000" fill-opacity="0.3" stroke="#ff0000" stroke-width="1.25" stroke-opacity="0.7"/>
<polygon points="117.27,251.69 118.6,253.03 117.55,254.08 118.6,255.12 117.27,256.46 116.22,255.41 115.17,256.46 113.83,255.12 114.88,254.08 113.83,253.03 115.17,251.69 116.22,252.74" fill="#ff0000" fill-opacity="0.3" stroke="#ff0000" stroke-width="1.25" stroke-opacity="0.7"/>
<polygon points="125.98,256.83 128.77,259.62 125.98,262.41 123.19,259.62" fill="#ff0000" fill-opacity="0.3" stroke="#ff0000" stroke-width="1.25" stroke-opacity="0.7"/>
<polygon points="115.81,251.26 117.14,252.6 116.1,253.65 117.14,254.7 115.81,256.03 114.76,254.98 113.71,256.03 112.37,254.7 113.42,253.65 112.37,252.6 113.71,251.26 114.76,252.31" fill="#ff0000" fill-opacity="0.3" stroke="#ff0000" stroke-width="1.25" stroke-opacity="0.7"/>
<rect x="109.61" y="261.57" width="4.68" height="4.68" fill="#ffa500" fill-opacity="0.3" stroke="#ffa500" stroke-width="1.25" stroke-opacity="0.7"/>
<polygon points="114.54,259.4 115.88,260.74 114.83,261.79 115.88,262.84 114.54,264.17 113.5,263.12 112.45,264.17 111.11,262.84 112.16,261.79 111.11,260.74 112.45,259.4 113.5,260.45" fill="#008000" fill-opacity="0.3" stroke="#008000" stroke-width="1.25" stroke-opacity="0.7"/>
<polygon points="105.11,261.94 106.45,263.27 105.4,264.32 106.45,265.37 105.11,266.71 104.06,265.66 103.02,266.71 101.68,265.37 102.73,264.32 101.68,263.27 103.02,261.94 104.06,262.98" fill="#ff0000" fill-opacity="0.3" stroke="#ff0000" stroke-width="1.25" stroke-opacity="0.7"/>
<polygon points="106.68,251.09 108.02,252.43 106.97,253.48 108.02,254.52 106.68,255.86 105.63,254.81 104.58,255.86 103.25,254.52 104.29,253.48 103.25,252.43 104.58,251.09 105.63,252.14" fill="#ff0000" fill-opacity="0.3" stroke="#ff0000" stroke-width="1.25" stroke-opacity="0.7"/>
<circle cx="110.5" cy="268.52" r="2.34" fill="#ff0000" fill-opacity="0.3" stroke="#ff0000" stroke-width="1.25" stroke-opacity="0.7"/>
<circle cx="102.9" cy="253.38" r="2.34" fill="#ff0000" fill-opacity="0.3" stroke="#ff0000" stroke-width="1.25" stroke-opacity="0.7"/>
<circle cx="101.44" cy="273.45" r="2.34" fill="#ff0000" fill-opacity="0.3" stroke="#ff0000" stroke-width="1.25" stroke-opacity="0.7"/>
<polygon points="108.98,262.22 110.32,263.56 109.27,264.61 110.32,265.65 108.98,266.99 107.93,265.94 106.88,266.99 105.55,265.65 106.59,264.61 105.55,263.56 106.88,262.22 107.93,263.27" fill="#008000" fill-opacity="0.3" stroke="#008000" stroke-width="1.25" stroke-opacity="0.7"/>
<polygon points="106.05,256.39 108.84,259.18 106.05,261.97 103.26,259.18" fill="#ff0000" fill-opacity="0.3" stroke="#ff0000" stroke-width="1.25" stroke-opacity="0.7"/>
<circle cx="115.61" cy="260.49" r="2.34" fill="#ff0000" fill-opacity="0.3" stroke="#ff0000" stroke-width="1.25" stroke-opacity="0.7"/>
<circle cx="113.1" cy="247.77" r="2.34" fill="#ff0000" fill-opacity="0.3" stroke="#ff0000" stroke-width="1.25" stroke-opacity="0.7"/>
<polygon points="115.78,257.27 117.11,258.6 116.07,259.65 117.11,260.7 115.78,262.04 114.73,260.99 113.68,262.04 112.34,260.7 113.39,259.65 112.34,258.6 113.68,257.27 114.73,258.32" fill="#008000" fill-opacity="0.3" stroke="#008000" stroke-width="1.25" stroke-opacity="0.7"/>
<circle cx="115.67" cy="268" r="2.34" fill="#008000" fill-opacity="0.3" stroke="#008000" stroke-width="1.25" stroke-opacity="0.7"/>
<circle cx="112.57" cy="254.34" r="2.34" fill="#ff0000" fill-opacity="0.3" stroke="#ff0000" stroke-width="1.25" stroke-opacity="0.7"/>
<polygon points="107.99,250.51 109.32,251.85 108.28,252.9 109.32,253.95 107.99,255.28 106.94,254.23 105.89,255.28 104.55,253.95 105.6,252.9 104.55,251.85 105.89,250.51 106.94,251.56" fill="#ff0000" fill-opacity="0.3" stroke="#ff0000" stroke-width="1.25" stroke-opacity="0.7"/>
<circle cx="111.24" cy="257.15" r="2.34" fill="#008000" fill-opacity="0.3" stroke="#008000" stroke-width="1.25" stroke-opacity="0.7"/>
<polygon points="113.15,262.07 114.49,263.41 113.44,264.45 114.49,265.5 113.15,266.84 112.1,265.79 111.05,266.84 109.72,265.5 110.77,264.45 109.72,263.41 111.05,262.07 112.1,263.12" fill="#ff0000" fill-opacity="0.3" stroke="#ff0000" stroke-width="1.25" stroke-opacity="0.7"/>
<rect x="113.13" y="249.22" width="4.68" height="4.68" fill="#ff0000" fill-opacity="0.3" stroke="#ff0000" stroke-width="1.25" stroke-opacity="0.7"/>
<circle cx="109.19" cy="254.38" r="2.34" fill="#ff0000" fill-opacity="0.3" stroke="#ff0000" stroke-width="1.25" stroke-opacity="0.7"/>
<circle cx="110.43" cy="261.01" r="2.34" fill="#ff0000" fill-opacity="0.3" stroke="#ff0000" stroke-width="1.25" stroke-opacity="0.7"/>
<rect x="108.37" y="251.85" width="4.68" height="4.68" fill="#ff0000" fill-opacity="0.3" stroke="#ff0000" stroke-width="1.25" stroke-opacity="0.7"/>
<rect x="101.09" y="268.87" width="4.68" height="4.68" fill="#ff0000" fill-opacity="0.3" stroke="#ff0000" stroke-width="1.25" stroke-opacity="0.7"/>
<polygon points="112.83,241 114.17,242.34 113.12,243.38 114.17,244.43 112.83,245.77 111.79,244.72 110.74,245.77 109.4,244.43 110.45,243.38 109.4,242.34 110.74,241 111.79,242.05" fill="#ffa500" fill-opacity="0.3" stroke="#ffa500" stroke-width="1.25" stroke-opacity="0.7"/>
<path d="M125.3 247.57H130.7M128 244.87V250.27" fill="#ff0000" fill-opacity="0.3" stroke="#ff0000" stroke-width="1.25" stroke-opacity="0.7"/>
<polygon points="120.66,263.99 122,265.33 120.95,266.38 122,267.42 120.66,268.76 119.61,267.71 118.57,268.76 117.23,267.42 118.28,266.38 117.23,265.33 118.57,263.99 119.61,265.04" fill="#ff0000" fill-opacity="0.3" stroke="#ff0000" stroke-width="1.25" stroke-opacity="0.7"/>
<polygon points="114.06,269.91 116.85,272.7 114.06,275.49 111.27,272.7" fill="#ff0000" fill-opacity="0.3" stroke="#ff0000" stroke-width="1.25" stroke-opacity="0.7"/>
<circle cx="115.61" cy="257.68" r="2.34" fill="#ff0000" fill-opacity="0.3" stroke="#ff0000" stroke-width="1.25" stroke-opacity="0.7"/>
<polygon points="116.63,251.84 117.97,253.18 116.92,254.23 117.97,255.28 116.63,256.61 115.58,255.56 114.53,256.61 113.2,255.28 114.25,254.23 113.2,253.18 114.53,251.84 115.58,252.89" fill="#ff0000" fill-opacity="0.3" stroke="#ff0000" stroke-width="1.25" stroke-opacity="0.7"/>
<polygon points="116.02,246.22 117.36,247.56 116.31,248.61 117.36,249.65 116.02,250.99 114.97,249.94 113.92,250.99 112.59,249.65 113.63,248.61 112.59,247.56 113.92,246.22 114.97,247.27" fill="#ff0000" fill-opacity="0.3" stroke="#ff0000" stroke-width="1.25" stroke-opacity="0.7"/>
<polygon points="105.12,262.2 106.45,263.54 105.4,264.59 106.45,265.64 105.12,266.97 104.07,265.92 103.02,266.97 101.68,265.64 102.73,264.59 101.68,263.54 103.02,262.2 104.07,263.25" fill="#ff0000" fill-opacity="0.3" stroke="#ff0000" stroke-width="1.25" stroke-opacity="0.7"/>
<polygon points="114.25,265.49 115.59,266.83 114.54,267.88 115.59,268.93 114.25,270.26 113.21,269.21 112.16,270.26 110.82,268.93 111.87,267.88 110.82,266.83 112.16,265.49 113.21,266.54" fill="#ff0000" fill-opacity="0.3" stroke="#ff0000" stroke-width="1.25" stroke-opacity="0.7"/>
<circle cx="105.57" cy="260.75" r="2.34" fill="#ff0000" fill-opacity="0.3" stroke="#ff0000" stroke-width="1.25" stroke-opacity="0.7"/>
<circle cx="107.09" cy="250.62" r="2.34" fill="#ff0000" fill-opacity="0.3" stroke="#ff0000" stroke-width="1.25" stroke-opacity="0.7"/>
<polygon points="114.32,256.58 115.66,257.92 114.61,258.97 115.66,260.02 114.32,261.35 113.27,260.3 112.22,261.35 110.89,260.02 111.94,258.97 110.89,257.92 112.22,256.58 113.27,257.63" fill="#008000" fill-opacity="0.3" stroke="#008000" stroke-width="1.25" stroke-opacity="0.7"/>
<polygon points="109.47,255.1 110.81,256.44 109.76,257.48 110.81,258.53 109.47,259.87 108.42,258.82 107.37,259.87 106.04,258.53 107.08,257.48 106.04,256.44 107.37,255.1 108.42,256.15" fill="#ff0000" fill-opacity="0.3" stroke="#ff0000" stroke-width="1.25" stroke-opacity="0.7"/>
<path d="M109.18 256.47H114.58M111.88 253.77V259.17" fill="#ffa500" fill-opacity="0.3" stroke="#ffa500" stroke-width="1.25" stroke-opacity="0.7"/>
<circle cx="120.82" cy="257.13" r="2.34" fill="#008000" fill-opacity="0.3" stroke="#008000" stroke-width="1.25" stroke-opacity="0.7"/>
<polygon points="105.96,252.31 107.3,253.65 106.25,254.7 107.3,255.75 105.96,257.08 104.91,256.03 103.86,257.08 102.53,255.75 103.58,254.7 102.53,253.65 103.86,252.31 104.91,253.36" fill="#ffa500" fill-opacity="0.3" stroke="#ffa500" stroke-width="1.25" stroke-opacity="0.7"/>
<path d="M96.89 258.58H102.29M99.59 255.88V261.28" fill="#ff0000" fill-opacity="0.3" stroke="#ff0000" stroke-width="1.25" stroke-opacity="0.7"/>
<polygon points="124.8,261.8 127.59,264.59 124.8,267.38 122.01,264.59" fill="#008000" fill-opacity="0.3" stroke="#008000" stroke-width="1.25" stroke-opacity="0.7"/>
<path d="M115.19 254.87H120.59M117.89 252.17V257.57" fill="#008000" fill-opacity="0.3" stroke="#008000" stroke-width="1.25" stroke-opacity="0.7"/>
<path d="M105.21 244.92H110.61M107.91 242.22V247.62" fill="#008000" fill-opacity="0.3" stroke="#008000" stroke-width="1.25" stroke-opacity="0.7"/>
<polygon points="121.27,248.93 124.06,251.72 121.27,254.51 118.48,251.72" fill="#008000" fill-opacity="0.3" stroke="#008000" stroke-width="1.25" stroke-opacity="0.7"/>
<polygon points="112.09,253.84 114.88,256.63 112.09,259.42 109.3,256.63" fill="#ff0000" fill-opacity="0.3" stroke="#ff0000" stroke-width="1.25" stroke-opacity="0.7"/>
<circle cx="106.94" cy="257.24" r="2.34" fill="#008000" fill-opacity="0.3" stroke="#008000" stroke-width="1.25" stroke-opacity="0.7"/>
<polygon points="110.84,258.06 112.17,259.4 111.13,260.45 112.17,261.5 110.84,262.83 109.79,261.78 108.74,262.83 107.4,261.5 108.45,260.45 107.4,259.4 108.74,258.06 109.79,259.11" fill="#ff0000" fill-opacity="0.3" stroke="#ff0000" stroke-width="1.25" stroke-opacity="0.7"/>
<polygon points="109.85,255.62 112.64,258.41 109.85,261.2 107.06,258.41" fill="#008000" fill-opacity="0.3" stroke="#008000" stroke-width="1.25" stroke-opacity="0.7"/>
<circle cx="119.03" cy="272.23" r="2.34" fill="#ff0000" fill-opacity="0.3" stroke="#ff0000" stroke-width="1.25" stroke-opacity="0.7"/>
<circle cx="107.08" cy="270.9" r="2.34" fill="#ff0000" fill-opacity="0.3" stroke="#ff0000" stroke-width="1.25" stroke-opacity="0.7"/>
<polygon points="116.04,258.9 117.37,260.24 116.32,261.28 117.37,262.33 116.04,263.67 114.99,262.62 113.94,263.67 112.6,262.33 113.65,261.28 112.6,260.24 113.94,258.9 114.99,259.95" fill="#008000" fill-opacity="0.3" stroke="#008000" stroke-width="1.25" stroke-opacity="0.7"/>
<rect x="127.54" y="251.83" width="4.68" height="4.68" fill="#ff0000" fill-opacity="0.3" stroke="#ff0000" stroke-width="1.25" stroke-opacity="0.7"/>
<circle cx="105.01" cy="274.7" r="2.34" fill="#ff0000" fill-opacity="0.3" stroke="#ff0000" stroke-width="1.25" stroke-opacity="0.7"/>
<polygon points="116.77,247.5 118.11,248.84 117.06,249.89 118.11,250.93 116.77,252.27 115.72,251.22 114.67,252.27 113.34,250.93 114.38,249.89 113.34,248.84 114.67,247.5 115.72,248.55" fill="#ff0000" fill-opacity="0.3" stroke="#ff0000" stroke-width="1.25" stroke-opacity="0.7"/>
<circle cx="99.73" cy="255.38" r="2.34" fill="#008000" fill-opacity="0.3" stroke="#008000" stroke-width="1.25" stroke-opacity="0.7"/>
<polygon points="111.34,255.46 112.68,256.8 111.63,257.85 112.68,258.9 111.34,260.23 110.3,259.19 109.25,260.23 107.91,258.9 108.96,257.85 107.91,256.8 109.25,255.46 110.3,256.51" fill="#ff0000" fill-opacity="0.3" stroke="#ff0000" stroke-width="1.25" stroke-opacity="0.7"/>
<rect x="108.83" y="259.89" width="4.68" height="4.68" fill="#ff0000" fill-opacity="0.3" stroke="#ff0000" stroke-width="1.25" stroke-opacity="0.7"/>
<rect x="98.65" y="255.92" width="4.68" height="4.68" fill="#ff0000" fill-opacity="0.3" stroke="#ff0000" stroke-width="1.25" stroke-opacity="0.7"/>
<polygon points="134.73,255.03 136.06,256.37 135.01,257.42 136.06,258.47 134.73,259.8 133.68,258.76 132.63,259.8 131.29,258.47 132.34,257.42 131.29,256.37 132.63,255.03 133.68,256.08" fill="#ff0000" fill-opacity="0.3" stroke="#ff0000" stroke-width="1.25" stroke-opacity="0.7"/>
<rect x="113.06" y="273.41" width="4.68" height="4.68" fill="#ff0000" fill-opacity="0.3" stroke="#ff0000" stroke-width="1.25" stroke-opacity="0.7"/>
<polygon points="108.36,265.12 109.7,266.45 108.65,267.5 109.7,268.55 108.36,269.89 107.32,268.84 106.27,269.89 104.93,268.55 105.98,267.5 104.93,266.45 106.27,265.12 107.32,266.16" fill="#ffa500" fill-opacity="0.3" stroke="#ffa500" stroke-width="1.25" stroke-opacity="0.7"/>
<circle cx="97.06" cy="248.42" r="2.34" fill="#ffa500" fill-opacity="0.3" stroke="#ffa500" stroke-width="1.25" stroke-opacity="0.7"/>
<polygon points="112.42,252.7 113.76,254.04 112.71,255.09 113.76,256.14 112.42,257.47 111.37,256.42 110.32,257.47 108.99,256.14 110.04,255.09 108.99,254.04 110.32,252.7 111.37,253.75" fill="#ff0000" fill-opacity="0.3" stroke="#ff0000" stroke-width="1.25" stroke-opacity="0.7"/>
<circle cx="101.5" cy="269.99" r="2.34" fill="#ff0000" fill-opacity="0.3" stroke="#ff0000" stroke-width="1.25" stroke-opacity="0.7"/>
<rect x="112.52" y="254.21" width="4.68" height="4.68" fill="#008000" fill-opacity="0.3" stroke="#008000" stroke-width="1.25" stroke-opacity="0.7"/>
<polygon points="106.71,253.26 109.5,256.05 106.71,258.84 103.92,256.05" fill="#ffa500" fill-opacity="0.3" stroke="#ffa500" stroke-width="1.25" stroke-opacity="0.7"/>
<polygon points="108.09,250.99 109.43,252.32 108.38,253.37 109.43,254.42 108.09,255.76 107.04,254.71 105.99,255.76 104.66,254.42 105.7,253.37 104.66,252.32 105.99,250.99 107.04,252.03" fill="#ff0000" fill-opacity="0.3" stroke="#ff0000" stroke-width="1.25" stroke-opacity="0.7"/>
<polygon points="107.94,254.41 109.28,255.75 108.23,256.79 109.28,257.84 107.94,259.18 106.9,258.13 105.85,259.18 104.51,257.84 105.56,256.79 104.51,255.75 105.85,254.41 106.9,255.46" fill="#ff0000" fill-opacity="0.3" stroke="#ff0000" stroke-width="1.25" stroke-opacity="0.7"/>
<polygon points="125.18,254.19 126.52,255.53 125.47,256.58 126.52,257.62 125.18,258.96 124.13,257.91 123.08,258.96 121.75,257.62 122.79,256.58 121.75,255.53 123.08,254.19 124.13,255.24" fill="#ff0000" fill-opacity="0.3" stroke="#ff0000" stroke-width="1.25" stroke-opacity="0.7"/>
<polygon points="125.88,250.22 127.22,251.56 126.17,252.61 127.22,253.66 125.88,254.99 124.83,253.95 123.78,254.99 122.45,253.66 123.5,252.61 122.45,251.56 123.78,250.22 124.83,251.27" fill="#ff0000" fill-opacity="0.3" stroke="#ff0000" stroke-width="1.25" stroke-opacity="0.7"/>
<circle cx="108.27" cy="266.26" r="2.34" fill="#008000" fill-opacity="0.3" stroke="#008000" stroke-width="1.25" stroke-opacity="0.7"/>
<circle cx="115.43" cy="285.43" r="2.34" fill="#008000" fill-opacity="0.15" stroke="#008000" stroke-width="1.25" stroke-opacity="0.7"/>
<polygon points="120.15,282.26 122.94,285.05 120.15,287.84 117.36,285.05" fill="#ffa500" fill-opacity="0.15" stroke="#ffa500" stroke-width="1.25" stroke-opacity="0.7"/>
<circle cx="125.99" cy="284.55" r="2.34" fill="#008000" fill-opacity="0.15" stroke="#008000" stroke-width="1.25" stroke-opacity="0.7"/>
<rect x="111.96" y="285.94" width="4.68" height="4.68" fill="#ffa500" fill-opacity="0.15" stroke="#ffa500" stroke-width="1.25" stroke-opacity="0.7"/>
<circle cx="131.65" cy="282.7" r="2.34" fill="#008000" fill-opacity="0.15" stroke="#008000" stroke-width="1.25" stroke-opacity="0.7"/>
<polygon points="111.67,275.75 114.46,278.54 111.67,281.33 108.88,278.54" fill="#ff0000" fill-opacity="0.15" stroke="#ff0000" stroke-width="1.25" stroke-opacity="0.7"/>
<path d="M109.6 283.96H115M112.3 281.26V286.66" fill="#ff0000" fill-opacity="0.15" stroke="#ff0000" stroke-width="1.25" stroke-opacity="0.7"/>
<polygon points="121.16,282.6 122.49,283.94 121.44,284.99 122.49,286.04 121.16,287.37 120.11,286.33 119.06,287.37 117.72,286.04 118.77,284.99 117.72,283.94 119.06,282.6 120.11,283.65" fill="#0000ff" fill-opacity="0.15" stroke="#0000ff" stroke-width="1.25" stroke-opacity="0.7"/>
<polygon points="124.06,286.22 125.39,287.55 124.34,288.6 125.39,289.65 124.06,290.99 123.01,289.94 121.96,290.99 120.62,289.65 121.67,288.6 120.62,287.55 121.96,286.22 123.01,287.27" fill="#008000" fill-opacity="0.15" stroke="#008000" stroke-width="1.25" stroke-opacity="0.7"/>
<polygon points="123.49,270.5 126.28,273.29 123.49,276.08 120.7,273.29" fill="#008000" fill-opacity="0.15" stroke="#008000" stroke-width="1.25" stroke-opacity="0.7"/>
<circle cx="119.97" cy="288.5" r="2.34" fill="#ffa500" fill-opacity="0.15" stroke="#ffa500" stroke-width="1.25" stroke-opacity="0.7"/>
<path d="M119.53 286.64H124.93M122.23 283.94V289.34" fill="#ff0000" fill-opacity="0.15" stroke="#ff0000" stroke-width="1.25" stroke-opacity="0.7"/>
<path d="M113.65 282.36H119.05M116.35 279.66V285.06" fill="#0000ff" fill-opacity="0.15" stroke="#0000ff" stroke-width="1.25" stroke-opacity="0.7"/>
<circle cx="117.34" cy="283.39" r="2.34" fill="#ff0000" fill-opacity="0.15" stroke="#ff0000" stroke-width="1.25" stroke-opacity="0.7"/>
<polygon points="124.32,287.27 125.65,288.6 124.6,289.65 125.65,290.7 124.32,292.04 123.27,290.99 122.22,292.04 120.88,290.7 121.93,289.65 120.88,288.6 122.22,287.27 123.27,288.32" fill="#008000" fill-opacity="0.15" stroke="#008000" stroke-width="1.25" stroke-opacity="0.7"/>
<polygon points="118.78,285.92 121.57,288.71 118.78,291.5 115.99,288.71" fill="#0000ff" fill-opacity="0.15" stroke="#0000ff" stroke-width="1.25" stroke-opacity="0.7"/>
<polygon points="127.47,280.55 128.8,281.89 127.75,282.93 128.8,283.98 127.47,285.32 126.42,284.27 125.37,285.32 124.03,283.98 125.08,282.93 124.03,281.89 125.37,280.55 126.42,281.6" fill="#ffa500" fill-opacity="0.15" stroke="#ffa500" stroke-width="1.25" stroke-opacity="0.7"/>
<polygon points="116.9,282.45 118.24,283.78 117.19,284.83 118.24,285.88 116.9,287.22 115.86,286.17 114.81,287.22 113.47,285.88 114.52,284.83 113.47,283.78 114.81,282.45 115.86,283.49" fill="#ff0000" fill-opacity="0.15" stroke="#ff0000" stroke-width="1.25" stroke-opacity="0.7"/>
<circle cx="116.03" cy="280.38" r="2.34" fill="#ffa500" fill-opacity="0.15" stroke="#ffa500" stroke-width="1.25" stroke-opacity="0.7"/>
<polygon points="115.03,272.89 116.37,274.23 115.32,275.28 116.37,276.32 115.03,277.66 113.99,276.61 112.94,277.66 111.6,276.32 112.65,275.28 111.6,274.23 112.94,272.89 113.99,273.94" fill="#ff0000" fill-opacity="0.15" stroke="#ff0000" stroke-width="1.25" stroke-opacity="0.7"/>
<rect x="124.64" y="281.3" width="4.68" height="4.68" fill="#008000" fill-opacity="0.15" stroke="#008000" stroke-width="1.25" stroke-opacity="0.7"/>
<circle cx="134.01" cy="286.37" r="2.34" fill="#0000ff" fill-opacity="0.15" stroke="#0000ff" stroke-width="1.25" stroke-opacity="0.7"/>
<path d="M122.09 288.59H127.49M124.79 285.89V291.29" fill="#ffa500" fill-opacity="0.15" stroke="#ffa500" stroke-width="1.25" stroke-opacity="0.7"/>
<rect x="109.73" y="279.36" width="4.68" height="4.68" fill="#ff0000" fill-opacity="0.15" stroke="#ff0000" stroke-width="1.25" stroke-opacity="0.7"/>
<rect x="133.66" y="282.97" width="4.68" height="4.68" fill="#008000" fill-opacity="0.15" stroke="#008000" stroke-width="1.25" stroke-opacity="0.7"/>
<polygon points="127.12,282.9 128.46,284.24 127.41,285.29 128.46,286.34 127.12,287.67 126.08,286.63 125.03,287.67 123.69,286.34 124.74,285.29 123.69,284.24 125.03,282.9 126.08,283.95" fill="#ff0000" fill-opacity="0.15" stroke="#ff0000" stroke-width="1.25" stroke-opacity="0.7"/>
<path d="M125.46 295.9H130.86M128.16 293.2V298.6" fill="#ff0000" fill-opacity="0.15" stroke="#ff0000" stroke-width="1.25" stroke-opacity="0.7"/>
<rect x="118.93" y="275.71" width="4.68" height="4.68" fill="#ffa500" fill-opacity="0.15" stroke="#ffa500" stroke-width="1.25" stroke-opacity="0.7"/>
<polygon points="130.65,288.5 131.99,289.83 130.94,290.88 131.99,291.93 130.65,293.27 129.6,292.22 128.55,293.27 127.22,291.93 128.26,290.88 127.22,289.83 128.55,288.5 129.6,289.55" fill="#ff0000" fill-opacity="0.15" stroke="#ff0000" stroke-width="1.25" stroke-opacity="0.7"/>
<polygon points="120.61,290.6 121.94,291.93 120.9,292.98 121.94,294.03 120.61,295.37 119.56,294.32 118.51,295.37 117.17,294.03 118.22,292.98 117.17,291.93 118.51,290.6 119.56,291.65" fill="#008000" fill-opacity="0.15" stroke="#008000" stroke-width="1.25" stroke-opacity="0.7"/>
<rect x="128.08" y="283.69" width="4.68" height="4.68" fill="#008000" fill-opacity="0.15" stroke="#008000" stroke-width="1.25" stroke-opacity="0.7"/>
<circle cx="120.61" cy="281.89" r="2.34" fill="#ff0000" fill-opacity="0.15" stroke="#ff0000" stroke-width="1.25" stroke-opacity="0.7"/>
<path d="M122.63 284.61H128.03M125.33 281.91V287.31" fill="#008000" fill-opacity="0.15" stroke="#008000" stroke-width="1.25" stroke-opacity="0.7"/>
<rect x="118.01" y="281.06" width="4.68" height="4.68" fill="#008000" fill-opacity="0.15" stroke="#008000" stroke-width="1.25" stroke-opacity="0.7"/>
<polygon points="119.85,284.47 121.19,285.8 120.14,286.85 121.19,287.9 119.85,289.24 118.8,288.19 117.75,289.24 116.42,287.9 117.46,286.85 116.42,285.8 117.75,284.47 118.8,285.52" fill="#ffa500" fill-opacity="0.15" stroke="#ffa500" stroke-width="1.25" stroke-opacity="0.7"/>
<rect x="113.75" y="280.35" width="4.68" height="4.68" fill="#ff0000" fill-opacity="0.15" stroke="#ff0000" stroke-width="1.25" stroke-opacity="0.7"/>
<rect x="118.2" y="277.99" width="4.68" height="4.68" fill="#ff0000" fill-opacity="0.15" stroke="#ff0000" stroke-width="1.25" stroke-opacity="0.7"/>
<polygon points="130.47,280.61 131.81,281.95 130.76,283 131.81,284.05 130.47,285.38 129.42,284.33 128.37,285.38 127.04,284.05 128.09,283 127.04,281.95 128.37,280.61 129.42,281.66" fill="#ff0000" fill-opacity="0.15" stroke="#ff0000" stroke-width="1.25" stroke-opacity="0.7"/>
<circle cx="116.27" cy="273.86" r="2.34" fill="#ff0000" fill-opacity="0.15" stroke="#ff0000" stroke-width="1.25" stroke-opacity="0.7"/>
<rect x="117.22" y="274.75" width="4.68" height="4.68" fill="#008000" fill-opacity="0.15" stroke="#008000" stroke-width="1.25" stroke-opacity="0.7"/>
<circle cx="122.45" cy="291.73" r="2.34" fill="#ffa500" fill-opacity="0.15" stroke="#ffa500" stroke-width="1.25" stroke-opacity="0.7"/>
<path d="M124.66 288.36H130.06M127.36 285.66V291.06" fill="#ff0000" fill-opacity="0.15" stroke="#ff0000" stroke-width="1.25" stroke-opacity="0.7"/>
<path d="M121.23 282.27H126.63M123.93 279.57V284.97" fill="#ff0000" fill-opacity="0.15" stroke="#ff0000" stroke-width="1.25" stroke-opacity="0.7"/>
<circle cx="123.85" cy="283.73" r="2.34" fill="#008000" fill-opacity="0.15" stroke="#008000" stroke-width="1.25" stroke-opacity="0.7"/>
<polygon points="121.9,284.33 124.69,287.12 121.9,289.91 119.11,287.12" fill="#008000" fill-opacity="0.15" stroke="#008000" stroke-width="1.25" stroke-opacity="0.7"/>
<circle cx="128.65" cy="288.77" r="2.34" fill="#0000ff" fill-opacity="0.15" stroke="#0000ff" stroke-width="1.25" stroke-opacity="0.7"/>
<circle cx="121.5" cy="295.38" r="2.34" fill="#ff0000" fill-opacity="0.15" stroke="#ff0000" stroke-width="1.25" stroke-opacity="0.7"/>
<polygon points="120.8,278.51 123.59,281.3 120.8,284.09 118.01,281.3" fill="#008000" fill-opacity="0.15" stroke="#008000" stroke-width="1.25" stroke-opacity="0.7"/>
<polygon points="131.49,280.43 132.82,281.77 131.77,282.82 132.82,283.86 131.49,285.2 130.44,284.15 129.39,285.2 128.05,283.86 129.1,282.82 128.05,281.77 129.39,280.43 130.44,281.48" fill="#0000ff" fill-opacity="0.15" stroke="#0000ff" stroke-width="1.25" stroke-opacity="0.7"/>
<polygon points="118.22,282.59 121.01,285.38 118.22,288.17 115.43,285.38" fill="#0000ff" fill-opacity="0.15" stroke="#0000ff" stroke-width="1.25" stroke-opacity="0.7"/>
<path d="M122.26 292.95H127.66M124.96 290.25V295.65" fill="#ffa500" fill-opacity="0.1" stroke="#ffa500" stroke-width="1.25" stroke-opacity="0.7"/>
<circle cx="125.49" cy="295.93" r="2.34" fill="#008000" fill-opacity="0.1" stroke="#008000" stroke-width="1.25" stroke-opacity="0.7"/>
<circle cx="134.34" cy="298.47" r="2.34" fill="#0000ff" fill-opacity="0.1" stroke="#0000ff" stroke-width="1.25" stroke-opacity="0.7"/>
<path d="M118.69 286.23H124.09M121.39 283.53V288.93" fill="#0000ff" fill-opacity="0.1" stroke="#0000ff" stroke-width="1.25" stroke-opacity="0.7"/>
<circle cx="142.48" cy="292.39" r="2.34" fill="#0000ff" fill-opacity="0.1" stroke="#0000ff" stroke-width="1.25" stroke-opacity="0.7"/>
<rect x="129.82" y="290.09" width="4.68" height="4.68" fill="#0000ff" fill-opacity="0.1" stroke="#0000ff" stroke-width="1.25" stroke-opacity="0.7"/>
<circle cx="132.37" cy="301.36" r="2.34" fill="#ff0000" fill-opacity="0.1" stroke="#ff0000" stroke-width="1.25" stroke-opacity="0.7"/>
<rect x="127.07" y="288.95" width="4.68" height="4.68" fill="#ffa500" fill-opacity="0.1" stroke="#ffa500" stroke-width="1.25" stroke-opacity="0.7"/>
<circle cx="133.84" cy="297.45" r="2.34" fill="#008000" fill-opacity="0.1" stroke="#008000" stroke-width="1.25" stroke-opacity="0.7"/>
<polygon points="128.34,300.46 129.67,301.8 128.62,302.85 129.67,303.89 128.34,305.23 127.29,304.18 126.24,305.23 124.9,303.89 125.95,302.85 124.9,301.8 126.24,300.46 127.29,301.51" fill="#ff0000" fill-opacity="0.1" stroke="#ff0000" stroke-width="1.25" stroke-opacity="0.7"/>
<circle cx="125.7" cy="296.32" r="2.34" fill="#ff0000" fill-opacity="0.1" stroke="#ff0000" stroke-width="1.25" stroke-opacity="0.7"/>
<polygon points="128.14,299.93 129.48,301.26 128.43,302.31 129.48,303.36 128.14,304.7 127.1,303.65 126.05,304.7 124.71,303.36 125.76,302.31 124.71,301.26 126.05,299.93 127.1,300.97" fill="#0000ff" fill-opacity="0.1" stroke="#0000ff" stroke-width="1.25" stroke-opacity="0.7"/>
<path d="M121.82 300.51H127.22M124.52 297.81V303.21" fill="#ffa500" fill-opacity="0.1" stroke="#ffa500" stroke-width="1.25" stroke-opacity="0.7"/>
<polygon points="125.08,278.7 126.42,280.03 125.37,281.08 126.42,282.13 125.08,283.47 124.03,282.42 122.98,283.47 121.65,282.13 122.69,281.08 121.65,280.03 122.98,278.7 124.03,279.75" fill="#008000" fill-opacity="0.1" stroke="#008000" stroke-width="1.25" stroke-opacity="0.7"/>
<path d="M136.48 305.86H141.88M139.18 303.16V308.56" fill="#0000ff" fill-opacity="0.1" stroke="#0000ff" stroke-width="1.25" stroke-opacity="0.7"/>
<rect x="123.93" y="293.23" width="4.68" height="4.68" fill="#0000ff" fill-opacity="0.1" stroke="#0000ff" stroke-width="1.25" stroke-opacity="0.7"/>
<polygon points="135.97,300.51 138.76,303.3 135.97,306.09 133.18,303.3" fill="#008000" fill-opacity="0.1" stroke="#008000" stroke-width="1.25" stroke-opacity="0.7"/>
<polygon points="125.49,297.62 126.83,298.96 125.78,300.01 126.83,301.05 125.49,302.39 124.44,301.34 123.39,302.39 122.06,301.05 123.11,300.01 122.06,298.96 123.39,297.62 124.44,298.67" fill="#008000" fill-opacity="0.1" stroke="#008000" stroke-width="1.25" stroke-opacity="0.7"/>
<path d="M124.15 297.5H129.55M126.85 294.8V300.2" fill="#0000ff" fill-opacity="0.1" stroke="#0000ff" stroke-width="1.25" stroke-opacity="0.7"/>
<polygon points="127.05,286.24 128.38,287.57 127.33,288.62 128.38,289.67 127.05,291.01 126,289.96 124.95,291.01 123.61,289.67 124.66,288.62 123.61,287.57 124.95,286.24 126,287.29" fill="#0000ff" fill-opacity="0.1" stroke="#0000ff" stroke-width="1.25" stroke-opacity="0.7"/>
<circle cx="131.13" cy="297.61" r="2.34" fill="#008000" fill-opacity="0.1" stroke="#008000" stroke-width="1.25" stroke-opacity="0.7"/>
<circle cx="127.98" cy="292.73" r="2.34" fill="#0000ff" fill-opacity="0.1" stroke="#0000ff" stroke-width="1.25" stroke-opacity="0.7"/>
<circle cx="138.25" cy="299.26" r="2.34" fill="#008000" fill-opacity="0.1" stroke="#008000" stroke-width="1.25" stroke-opacity="0.7"/>
<rect x="134.66" y="295.93" width="4.68" height="4.68" fill="#008000" fill-opacity="0.1" stroke="#008000" stroke-width="1.25" stroke-opacity="0.7"/>
<path d="M123.38 286.65H128.78M126.08 283.95V289.35" fill="#ffa500" fill-opacity="0.1" stroke="#ffa500" stroke-width="1.25" stroke-opacity="0.7"/>
<polygon points="139.19,287.52 140.53,288.86 139.48,289.91 140.53,290.96 139.19,292.29 138.14,291.24 137.09,292.29 135.76,290.96 136.8,289.91 135.76,288.86 137.09,287.52 138.14,288.57" fill="#ffa500" fill-opacity="0.1" stroke="#ffa500" stroke-width="1.25" stroke-opacity="0.7"/>
<polygon points="126.15,297.02 128.94,299.81 126.15,302.6 123.36,299.81" fill="#0000ff" fill-opacity="0.1" stroke="#0000ff" stroke-width="1.25" stroke-opacity="0.7"/>
<polygon points="129.82,297.95 131.16,299.29 130.11,300.33 131.16,301.38 129.82,302.72 128.77,301.67 127.72,302.72 126.39,301.38 127.44,300.33 126.39,299.29 127.72,297.95 128.77,299" fill="#008000" fill-opacity="0.1" stroke="#008000" stroke-width="1.25" stroke-opacity="0.7"/>
<polygon points="138.02,306.33 139.36,307.67 138.31,308.72 139.36,309.76 138.02,311.1 136.97,310.05 135.93,311.1 134.59,309.76 135.64,308.72 134.59,307.67 135.93,306.33 136.97,307.38" fill="#ffa500" fill-opacity="0.1" stroke="#ffa500" stroke-width="1.25" stroke-opacity="0.7"/>
<circle cx="136.7" cy="300.45" r="2.34" fill="#008000" fill-opacity="0.1" stroke="#008000" stroke-width="1.25" stroke-opacity="0.7"/>
<circle cx="129.14" cy="304.77" r="2.34" fill="#ffa500" fill-opacity="0.1" stroke="#ffa500" stroke-width="1.25" stroke-opacity="0.7"/>
<path d="M134.68 303.03H140.08M137.38 300.33V305.73" fill="#ffa500" fill-opacity="0.1" stroke="#ffa500" stroke-width="1.25" stroke-opacity="0.7"/>
<polygon points="125.13,290.83 126.46,292.16 125.42,293.21 126.46,294.26 125.13,295.6 124.08,294.55 123.03,295.6 121.69,294.26 122.74,293.21 121.69,292.16 123.03,290.83 124.08,291.87" fill="#ff0000" fill-opacity="0.1" stroke="#ff0000" stroke-width="1.25" stroke-opacity="0.7"/>
<circle cx="134.6" cy="300.05" r="2.34" fill="#ff0000" fill-opacity="0.1" stroke="#ff0000" stroke-width="1.25" stroke-opacity="0.7"/>
<polygon points="133.18,295.83 134.52,297.17 133.47,298.22 134.52,299.27 133.18,300.6 132.13,299.55 131.08,300.6 129.75,299.27 130.79,298.22 129.75,297.17 131.08,295.83 132.13,296.88" fill="#0000ff" fill-opacity="0.1" stroke="#0000ff" stroke-width="1.25" stroke-opacity="0.7"/>
<circle cx="125.65" cy="293.74" r="2.34" fill="#ffa500" fill-opacity="0.1" stroke="#ffa500" stroke-width="1.25" stroke-opacity="0.7"/>
<polygon points="139.23,301.98 140.57,303.32 139.52,304.37 140.57,305.41 139.23,306.75 138.19,305.7 137.14,306.75 135.8,305.41 136.85,304.37 135.8,303.32 137.14,301.98 138.19,303.03" fill="#ffa500" fill-opacity="0.1" stroke="#ffa500" stroke-width="1.25" stroke-opacity="0.7"/>
<polygon points="139.43,298.52 140.76,299.86 139.71,300.91 140.76,301.96 139.43,303.29 138.38,302.25 137.33,303.29 135.99,301.96 137.04,300.91 135.99,299.86 137.33,298.52 138.38,299.57" fill="#008000" fill-opacity="0.1" stroke="#008000" stroke-width="1.25" stroke-opacity="0.7"/>
<path d="M140.62 304.77H146.02M143.32 302.07V307.47" fill="#ff0000" fill-opacity="0.1" stroke="#ff0000" stroke-width="1.25" stroke-opacity="0.7"/>
<polygon points="139.81,297.89 141.15,299.22 140.1,300.27 141.15,301.32 139.81,302.66 138.76,301.61 137.71,302.66 136.38,301.32 137.43,300.27 136.38,299.22 137.71,297.89 138.76,298.94" fill="#ffa500" fill-opacity="0.1" stroke="#ffa500" stroke-width="1.25" stroke-opacity="0.7"/>
<rect x="128.08" y="291.14" width="4.68" height="4.68" fill="#008000" fill-opacity="0.1" stroke="#008000" stroke-width="1.25" stroke-opacity="0.7"/>
<rect x="127.24" y="291.64" width="4.68" height="4.68" fill="#008000" fill-opacity="0.1" stroke="#008000" stroke-width="1.25" stroke-opacity="0.7"/>
<polygon points="130.92,289.72 133.71,292.51 130.92,295.3 128.13,292.51" fill="#0000ff" fill-opacity="0.1" stroke="#0000ff" stroke-width="1.25" stroke-opacity="0.7"/>
<polygon points="135.95,302.91 137.29,304.25 136.24,305.3 137.29,306.35 135.95,307.68 134.9,306.64 133.85,307.68 132.52,306.35 133.56,305.3 132.52,304.25 133.85,302.91 134.9,303.96" fill="#0000ff" fill-opacity="0.1" stroke="#0000ff" stroke-width="1.25" stroke-opacity="0.7"/>
<polygon points="145.42,296.16 148.21,298.95 145.42,301.74 142.63,298.95" fill="#ffa500" fill-opacity="0.1" stroke="#ffa500" stroke-width="1.25" stroke-opacity="0.7"/>
<path d="M140.21 299.02H145.61M142.91 296.32V301.72" fill="#ffa500" fill-opacity="0.1" stroke="#ffa500" stroke-width="1.25" stroke-opacity="0.7"/>
<rect x="147.76" y="296.89" width="4.68" height="4.68" fill="#ffa500" fill-opacity="0.1" stroke="#ffa500" stroke-width="1.25" stroke-opacity="0.7"/>
<polygon points="147.37,298.63 148.71,299.97 147.66,301.02 148.71,302.07 147.37,303.4 146.33,302.35 145.28,303.4 143.94,302.07 144.99,301.02 143.94,299.97 145.28,298.63 146.33,299.68" fill="#ffa500" fill-opacity="0.1" stroke="#ffa500" stroke-width="1.25" stroke-opacity="0.7"/>
<polygon points="138.12,296.91 139.46,298.25 138.41,299.3 139.46,300.35 138.12,301.68 137.07,300.64 136.02,301.68 134.69,300.35 135.74,299.3 134.69,298.25 136.02,296.91 137.07,297.96" fill="#ffa500" fill-opacity="0.1" stroke="#ffa500" stroke-width="1.25" stroke-opacity="0.7"/>
<circle cx="142.6" cy="301.32" r="2.34" fill="#ffa500" fill-opacity="0.1" stroke="#ffa500" stroke-width="1.25" stroke-opacity="0.7"/>
<circle cx="145.51" cy="310.51" r="2.34" fill="#ffa500" fill-opacity="0.1" stroke="#ffa500" stroke-width="1.25" stroke-opacity="0.7"/>
<polygon points="145.25,296.51 146.59,297.85 145.54,298.9 146.59,299.95 145.25,301.28 144.21,300.23 143.16,301.28 141.82,299.95 142.87,298.9 141.82,297.85 143.16,296.51 144.21,297.56" fill="#ffa500" fill-opacity="0.1" stroke="#ffa500" stroke-width="1.25" stroke-opacity="0.7"/>
<circle cx="142.59" cy="302.99" r="2.34" fill="#ffa500" fill-opacity="0.1" stroke="#ffa500" stroke-width="1.25" stroke-opacity="0.7"/>
<path d="M143.67 308H149.07M146.37 305.3V310.7" fill="#0000ff" fill-opacity="0.1" stroke="#0000ff" stroke-width="1.25" stroke-opacity="0.7"/>
<rect x="142.04" y="302.48" width="4.68" height="4.68" fill="#0000ff" fill-opacity="0.1" stroke="#0000ff" stroke-width="1.25" stroke-opacity="0.7"/>
<circle cx="139.98" cy="304.2" r="2.34" fill="#ffa500" fill-opacity="0.1" stroke="#ffa500" stroke-width="1.25" stroke-opacity="0.7"/>
<polygon points="152.05,302.72 153.39,304.06 152.34,305.11 153.39,306.15 152.05,307.49 151.01,306.44 149.96,307.49 148.62,306.15 149.67,305.11 148.62,304.06 149.96,302.72 151.01,303.77" fill="#0000ff" fill-opacity="0.1" stroke="#0000ff" stroke-width="1.25" stroke-opacity="0.7"/>
<circle cx="144.33" cy="294.8" r="2.34" fill="#ffa500" fill-opacity="0.1" stroke="#ffa500" stroke-width="1.25" stroke-opacity="0.7"/>
<polygon points="153.66,300.57 154.99,301.91 153.94,302.96 154.99,304.01 153.66,305.34 152.61,304.29 151.56,305.34 150.22,304.01 151.27,302.96 150.22,301.91 151.56,300.57 152.61,301.62" fill="#ffa500" fill-opacity="0.1" stroke="#ffa500" stroke-width="1.25" stroke-opacity="0.7"/>
<polygon points="152.6,310.2 153.94,311.53 152.89,312.58 153.94,313.63 152.6,314.97 151.55,313.92 150.5,314.97 149.17,313.63 150.21,312.58 149.17,311.53 150.5,310.2 151.55,311.24" fill="#ffa500" fill-opacity="0.1" stroke="#ffa500" stroke-width="1.25" stroke-opacity="0.7"/>
<polygon points="146.65,303.82 147.99,305.16 146.94,306.21 147.99,307.26 146.65,308.59 145.6,307.54 144.56,308.59 143.22,307.26 144.27,306.21 143.22,305.16 144.56,303.82 145.6,304.87" fill="#ffa500" fill-opacity="0.1" stroke="#ffa500" stroke-width="1.25" stroke-opacity="0.7"/>
<circle cx="148.58" cy="308.21" r="2.34" fill="#ffa500" fill-opacity="0.1" stroke="#ffa500" stroke-width="1.25" stroke-opacity="0.7"/>
<rect x="143.02" y="297.21" width="4.68" height="4.68" fill="#ffa500" fill-opacity="0.1" stroke="#ffa500" stroke-width="1.25" stroke-opacity="0.7"/>
<rect x="139.01" y="294.86" width="4.68" height="4.68" fill="#ffa500" fill-opacity="0.1" stroke="#ffa500" stroke-width="1.25" stroke-opacity="0.7"/>
<polygon points="147.35,305.79 148.68,307.13 147.63,308.17 148.68,309.22 147.35,310.56 146.3,309.51 145.25,310.56 143.91,309.22 144.96,308.17 143.91,307.13 145.25,305.79 146.3,306.84" fill="none" stroke="#0000ff" stroke-width="1.25" stroke-opacity="0.7"/>
<circle cx="140.98" cy="303.74" r="2.34" fill="none" stroke="#0000ff" stroke-width="1.25" stroke-opacity="0.7"/>
<circle cx="159.3" cy="309.8" r="2.34" fill="none" stroke="#0000ff" stroke-width="1.25" stroke-opacity="0.7"/>
<rect x="151.65" y="299.52" width="4.68" height="4.68" fill="none" stroke="#0000ff" stroke-width="1.25" stroke-opacity="0.7"/>
<polygon points="148.12,303.46 149.46,304.79 148.41,305.84 149.46,306.89 148.12,308.23 147.07,307.18 146.03,308.23 144.69,306.89 145.74,305.84 144.69,304.79 146.03,303.46 147.07,304.5" fill="none" stroke="#0000ff" stroke-width="1.25" stroke-opacity="0.7"/>
<circle cx="156.14" cy="312.11" r="2.34" fill="none" stroke="#ffa500" stroke-width="1.25" stroke-opacity="0.7"/>
<polygon points="154.94,306.16 156.27,307.5 155.22,308.55 156.27,309.6 154.94,310.93 153.89,309.89 152.84,310.93 151.5,309.6 152.55,308.55 151.5,307.5 152.84,306.16 153.89,307.21" fill="none" stroke="#ff0000" stroke-width="1.25" stroke-opacity="0.7"/>
<circle cx="154.18" cy="301.44" r="2.34" fill="none" stroke="#0000ff" stroke-width="1.25" stroke-opacity="0.7"/>
<circle cx="161.25" cy="306.32" r="2.34" fill="none" stroke="#008000" stroke-width="1.25" stroke-opacity="0.7"/>
<path d="M169.75 302.09H175.15M172.45 299.39V304.79" fill="none" stroke="#008000" stroke-width="1.25" stroke-opacity="0.7"/>
<polygon points="153.68,306.71 155.02,308.04 153.97,309.09 155.02,310.14 153.68,311.48 152.63,310.43 151.58,311.48 150.25,310.14 151.3,309.09 150.25,308.04 151.58,306.71 152.63,307.75" fill="none" stroke="#008000" stroke-width="1.25" stroke-opacity="0.7"/>
<path d="M166.05 311.44H171.45M168.75 308.74V314.14" fill="none" stroke="#0000ff" stroke-width="1.25" stroke-opacity="0.7"/>
<circle cx="150.43" cy="302.36" r="2.34" fill="none" stroke="#008000" stroke-width="1.25" stroke-opacity="0.7"/>
<polygon points="152.48,301.04 153.81,302.38 152.76,303.42 153.81,304.47 152.48,305.81 151.43,304.76 150.38,305.81 149.04,304.47 150.09,303.42 149.04,302.38 150.38,301.04 151.43,302.09" fill="none" stroke="#008000" stroke-width="1.25" stroke-opacity="0.7"/>
<rect x="156.42" y="304.32" width="4.68" height="4.68" fill="none" stroke="#0000ff" stroke-width="1.25" stroke-opacity="0.7"/>
<polygon points="151.1,307.8 152.44,309.14 151.39,310.19 152.44,311.24 151.1,312.57 150.06,311.52 149.01,312.57 147.67,311.24 148.72,310.19 147.67,309.14 149.01,307.8 150.06,308.85" fill="none" stroke="#ffa500" stroke-width="1.25" stroke-opacity="0.7"/>
<polygon points="145.21,303.62 148,306.41 145.21,309.2 142.42,306.41" fill="none" stroke="#0000ff" stroke-width="1.25" stroke-opacity="0.7"/>
<polygon points="163.63,306.24 164.96,307.58 163.92,308.63 164.96,309.68 163.63,311.01 162.58,309.96 161.53,311.01 160.19,309.68 161.24,308.63 160.19,307.58 161.53,306.24 162.58,307.29" fill="none" stroke="#008000" stroke-width="1.25" stroke-opacity="0.7"/>
<circle cx="153.27" cy="303.35" r="2.34" fill="none" stroke="#008000" stroke-width="1.25" stroke-opacity="0.7"/>
<circle cx="146.46" cy="300.41" r="2.34" fill="none" stroke="#008000" stroke-width="1.25" stroke-opacity="0.7"/>
<polygon points="139.13,296.93 140.47,298.26 139.42,299.31 140.47,300.36 139.13,301.7 138.08,300.65 137.04,301.7 135.7,300.36 136.75,299.31 135.7,298.26 137.04,296.93 138.08,297.97" fill="none" stroke="#008000" stroke-width="1.25" stroke-opacity="0.7"/>
<path d="M158.92 311.07H164.32M161.62 308.37V313.77" fill="none" stroke="#0000ff" stroke-width="1.25" stroke-opacity="0.7"/>
<polygon points="144.09,304.24 145.43,305.58 144.38,306.63 145.43,307.68 144.09,309.01 143.04,307.96 142,309.01 140.66,307.68 141.71,306.63 140.66,305.58 142,304.24 143.04,305.29" fill="none" stroke="#0000ff" stroke-width="1.25" stroke-opacity="0.7"/>
<polygon points="139.42,305.41 140.76,306.75 139.71,307.8 140.76,308.85 139.42,310.18 138.37,309.14 137.32,310.18 135.99,308.85 137.04,307.8 135.99,306.75 137.32,305.41 138.37,306.46" fill="none" stroke="#0000ff" stroke-width="1.25" stroke-opacity="0.7"/>
<circle cx="138.15" cy="291.27" r="2.34" fill="none" stroke="#0000ff" stroke-width="1.25" stroke-opacity="0.7"/>
<circle cx="146.72" cy="312.34" r="2.34" fill="none" stroke="#ff0000" stroke-width="1.25" stroke-opacity="0.7"/>
<polygon points="167.57,306.31 170.36,309.1 167.57,311.89 164.78,309.1" fill="none" stroke="#008000" stroke-width="1.25" stroke-opacity="0.7"/>
<rect x="151.94" y="306.32" width="4.68" height="4.68" fill="none" stroke="#ffa500" stroke-width="1.25" stroke-opacity="0.7"/>
<rect x="139.92" y="302.65" width="4.68" height="4.68" fill="none" stroke="#0000ff" stroke-width="1.25" stroke-opacity="0.7"/>
<circle cx="148.65" cy="313.32" r="2.34" fill="none" stroke="#0000ff" stroke-width="1.25" stroke-opacity="0.7"/>
<circle cx="146.89" cy="274.96" r="2.34" fill="none" stroke="#0000ff" stroke-width="1.25" stroke-opacity="0.7"/>
<polygon points="151.9,277.53 153.24,278.87 152.19,279.92 153.24,280.97 151.9,282.3 150.85,281.26 149.8,282.3 148.47,280.97 149.52,279.92 148.47,278.87 149.8,277.53 150.85,278.58" fill="none" stroke="#0000ff" stroke-width="1.25" stroke-opacity="0.7"/>
<circle cx="144.99" cy="280.2" r="2.34" fill="none" stroke="#0000ff" stroke-width="1.25" stroke-opacity="0.7"/>
<circle cx="152.75" cy="275.13" r="2.34" fill="none" stroke="#0000ff" stroke-width="1.25" stroke-opacity="0.7"/>
<polygon points="153.11,274.27 154.44,275.6 153.4,276.65 154.44,277.7 153.11,279.04 152.06,277.99 151.01,279.04 149.67,277.7 150.72,276.65 149.67,275.6 151.01,274.27 152.06,275.32" fill="none" stroke="#0000ff" stroke-width="1.25" stroke-opacity="0.7"/>
<polygon points="147.44,274.57 150.23,277.36 147.44,280.15 144.65,277.36" fill="none" stroke="#0000ff" stroke-width="1.25" stroke-opacity="0.7"/>
<circle cx="153.64" cy="270.28" r="2.34" fill="none" stroke="#0000ff" stroke-width="1.25" stroke-opacity="0.7"/>
<polygon points="109.32,237.84 110.66,239.17 109.61,240.22 110.66,241.27 109.32,242.61 108.28,241.56 107.23,242.61 105.89,241.27 106.94,240.22 105.89,239.17 107.23,237.84 108.28,238.88" fill="#ff0000" fill-opacity="0.2" stroke="#ff0000" stroke-width="1.25" stroke-opacity="0.7"/>
<circle cx="116.05" cy="239.04" r="2.34" fill="#0000ff" fill-opacity="0.2" stroke="#0000ff" stroke-width="1.25" stroke-opacity="0.7"/>
<path d="M111.16 239.62H116.56M113.86 236.92V242.32" fill="#0000ff" fill-opacity="0.2" stroke="#0000ff" stroke-width="1.25" stroke-opacity="0.7"/>
<polygon points="120.86,237.88 122.2,239.22 121.15,240.27 122.2,241.31 120.86,242.65 119.81,241.6 118.76,242.65 117.43,241.31 118.47,240.27 117.43,239.22 118.76,237.88 119.81,238.93" fill="#ff0000" fill-opacity="0.2" stroke="#ff0000" stroke-width="1.25" stroke-opacity="0.7"/>
<circle cx="117.46" cy="239.78" r="2.34" fill="#ff0000" fill-opacity="0.2" stroke="#ff0000" stroke-width="1.25" stroke-opacity="0.7"/>
<circle cx="113.82" cy="237.76" r="2.34" fill="#ff0000" fill-opacity="0.2" stroke="#ff0000" stroke-width="1.25" stroke-opacity="0.7"/>
<polygon points="114.92,237.39 117.71,240.18 114.92,242.97 112.13,240.18" fill="#0000ff" fill-opacity="0.2" stroke="#0000ff" stroke-width="1.25" stroke-opacity="0.7"/>
<path d="M114.44 236.67H119.84M117.14 233.97V239.37" fill="#0000ff" fill-opacity="0.2" stroke="#0000ff" stroke-width="1.25" stroke-opacity="0.7"/>
<polygon points="95.23,265.27 96.53,266.57 95.51,267.6 96.53,268.63 95.23,269.93 94.2,268.91 93.17,269.93 91.87,268.63 92.89,267.6 91.87,266.57 93.17,265.27 94.2,266.29" fill="none" stroke="#ffa500" stroke-width="1.35" stroke-opacity="0.62"/>
<circle cx="96.5" cy="270.4" r="2.29" fill="none" stroke="#008000" stroke-width="1.35" stroke-opacity="0.62"/>
<polygon points="104.43,278.17 105.73,279.47 104.71,280.5 105.73,281.53 104.43,282.83 103.4,281.81 102.37,282.83 101.07,281.53 102.09,280.5 101.07,279.47 102.37,278.17 103.4,279.19" fill="none" stroke="#008000" stroke-width="1.35" stroke-opacity="0.62"/>
<rect x="96.71" y="271.71" width="4.58" height="4.58" fill="none" stroke="#ffa500" stroke-width="1.35" stroke-opacity="0.62"/>
<circle cx="105" cy="283.5" r="2.29" fill="none" stroke="#008000" stroke-width="1.35" stroke-opacity="0.62"/>
<polygon points="102.03,274.67 103.33,275.97 102.31,277 103.33,278.03 102.03,279.33 101,278.31 99.97,279.33 98.67,278.03 99.69,277 98.67,275.97 99.97,274.67 101,275.69" fill="none" stroke="#008000" stroke-width="1.35" stroke-opacity="0.62"/>
<polygon points="97,262.27 99.73,265 97,267.73 94.27,265" fill="none" stroke="#ff0000" stroke-width="1.35" stroke-opacity="0.62"/>
<circle cx="127" cy="258" r="2.29" fill="none" stroke="#008000" stroke-width="1.35" stroke-opacity="0.62"/>
<polygon points="129.03,259.67 130.33,260.97 129.31,262 130.33,263.03 129.03,264.33 128,263.31 126.97,264.33 125.67,263.03 126.69,262 125.67,260.97 126.97,259.67 128,260.69" fill="none" stroke="#0000ff" stroke-width="1.35" stroke-opacity="0.62"/>
<rect x="123.71" y="273.71" width="4.58" height="4.58" fill="none" stroke="#ff0000" stroke-width="1.35" stroke-opacity="0.62"/>
<circle cx="129" cy="280" r="2.29" fill="none" stroke="#008000" stroke-width="1.35" stroke-opacity="0.62"/>
<polygon points="128.03,282.67 129.33,283.97 128.31,285 129.33,286.03 128.03,287.33 127,286.31 125.97,287.33 124.67,286.03 125.69,285 124.67,283.97 125.97,282.67 127,283.69" fill="none" stroke="#0000ff" stroke-width="1.35" stroke-opacity="0.62"/>
<rect x="121.71" y="286.71" width="4.58" height="4.58" fill="none" stroke="#ff0000" stroke-width="1.35" stroke-opacity="0.62"/>
<polygon points="107.43,213.67 108.73,214.97 107.71,216 108.73,217.03 107.43,218.33 106.4,217.31 105.37,218.33 104.07,217.03 105.09,216 104.07,214.97 105.37,213.67 106.4,214.69" fill="none" stroke="#ff0000" stroke-width="1.35" stroke-opacity="0.62"/>
<polygon points="108.33,217.27 109.63,218.57 108.61,219.6 109.63,220.63 108.33,221.93 107.3,220.91 106.27,221.93 104.97,220.63 105.99,219.6 104.97,218.57 106.27,217.27 107.3,218.29" fill="none" stroke="#ff0000" stroke-width="1.35" stroke-opacity="0.62"/>
<polygon points="108.93,220.07 110.23,221.37 109.21,222.4 110.23,223.43 108.93,224.73 107.9,223.71 106.87,224.73 105.57,223.43 106.59,222.4 105.57,221.37 106.87,220.07 107.9,221.09" fill="none" stroke="#ff0000" stroke-width="1.35" stroke-opacity="0.62"/>
<polygon points="109.43,222.27 110.73,223.57 109.71,224.6 110.73,225.63 109.43,226.93 108.4,225.91 107.37,226.93 106.07,225.63 107.09,224.6 106.07,223.57 107.37,222.27 108.4,223.29" fill="none" stroke="#ff0000" stroke-width="1.35" stroke-opacity="0.62"/>
<circle cx="102.4" cy="219" r="2.29" fill="none" stroke="#008000" stroke-width="1.35" stroke-opacity="0.62"/>
<polygon points="103.63,221.67 104.93,222.97 103.91,224 104.93,225.03 103.63,226.33 102.6,225.31 101.57,226.33 100.27,225.03 101.29,224 100.27,222.97 101.57,221.67 102.6,222.69" fill="none" stroke="#008000" stroke-width="1.35" stroke-opacity="0.62"/>
<circle cx="114" cy="224.6" r="2.29" fill="none" stroke="#008000" stroke-width="1.35" stroke-opacity="0.62"/>
<circle cx="113.5" cy="227.5" r="2.29" fill="none" stroke="#008000" stroke-width="1.35" stroke-opacity="0.62"/>
<polygon points="100.63,227.77 101.93,229.07 100.91,230.1 101.93,231.13 100.63,232.43 99.6,231.41 98.57,232.43 97.27,231.13 98.29,230.1 97.27,229.07 98.57,227.77 99.6,228.79" fill="none" stroke="#ff0000" stroke-width="1.35" stroke-opacity="0.62"/>
<polygon points="101.53,230.17 102.83,231.47 101.81,232.5 102.83,233.53 101.53,234.83 100.5,233.81 99.47,234.83 98.17,233.53 99.19,232.5 98.17,231.47 99.47,230.17 100.5,231.19" fill="none" stroke="#ff0000" stroke-width="1.35" stroke-opacity="0.62"/>
<polygon points="103.93,229.47 105.23,230.77 104.21,231.8 105.23,232.83 103.93,234.13 102.9,233.11 101.87,234.13 100.57,232.83 101.59,231.8 100.57,230.77 101.87,229.47 102.9,230.49" fill="none" stroke="#008000" stroke-width="1.35" stroke-opacity="0.62"/>
<circle cx="96.5" cy="233.5" r="2.29" fill="none" stroke="#008000" stroke-width="1.35" stroke-opacity="0.62"/>
<circle cx="109.5" cy="230.7" r="2.29" fill="none" stroke="#008000" stroke-width="1.35" stroke-opacity="0.62"/>
<polygon points="115.53,229.47 116.83,230.77 115.81,231.8 116.83,232.83 115.53,234.13 114.5,233.11 113.47,234.13 112.17,232.83 113.19,231.8 112.17,230.77 113.47,229.47 114.5,230.49" fill="none" stroke="#ff0000" stroke-width="1.35" stroke-opacity="0.62"/>
<polygon points="113.03,231.17 114.33,232.47 113.31,233.5 114.33,234.53 113.03,235.83 112,234.81 110.97,235.83 109.67,234.53 110.69,233.5 109.67,232.47 110.97,231.17 112,232.19" fill="none" stroke="#ff0000" stroke-width="1.35" stroke-opacity="0.62"/>
<circle cx="104" cy="235" r="2.29" fill="none" stroke="#008000" stroke-width="1.35" stroke-opacity="0.62"/>
<polygon points="111.03,233.67 112.33,234.97 111.31,236 112.33,237.03 111.03,238.33 110,237.31 108.97,238.33 107.67,237.03 108.69,236 107.67,234.97 108.97,233.67 110,234.69" fill="none" stroke="#ff0000" stroke-width="1.35" stroke-opacity="0.62"/>
<rect x="167.21" y="315.71" width="4.58" height="4.58" fill="none" stroke="#ff0000" stroke-width="1.35" stroke-opacity="0.62"/>
<polygon points="196.03,313.07 197.33,314.37 196.31,315.4 197.33,316.43 196.03,317.73 195,316.71 193.97,317.73 192.67,316.43 193.69,315.4 192.67,314.37 193.97,313.07 195,314.09" fill="none" stroke="#0000ff" stroke-width="1.35" stroke-opacity="0.62"/>
<circle cx="175" cy="322.7" r="2.29" fill="none" stroke="#0000ff" stroke-width="1.35" stroke-opacity="0.62"/>
<polygon points="179.73,324.07 181.03,325.37 180.01,326.4 181.03,327.43 179.73,328.73 178.7,327.71 177.67,328.73 176.37,327.43 177.39,326.4 176.37,325.37 177.67,324.07 178.7,325.09" fill="none" stroke="#ff0000" stroke-width="1.35" stroke-opacity="0.62"/>
<rect x="154.31" y="320.41" width="4.58" height="4.58" fill="none" stroke="#0000ff" stroke-width="1.35" stroke-opacity="0.62"/>
<polygon points="189.8,331.07 192.53,333.8 189.8,336.53 187.07,333.8" fill="none" stroke="#008000" stroke-width="1.35" stroke-opacity="0.62"/>
<circle cx="195.7" cy="332.3" r="2.29" fill="none" stroke="#0000ff" stroke-width="1.35" stroke-opacity="0.62"/>
<polygon points="212.03,331.57 213.33,332.87 212.31,333.9 213.33,334.93 212.03,336.23 211,335.21 209.97,336.23 208.67,334.93 209.69,333.9 208.67,332.87 209.97,331.57 211,332.59" fill="none" stroke="#ff0000" stroke-width="1.35" stroke-opacity="0.62"/>
<circle cx="213.3" cy="341.5" r="2.29" fill="none" stroke="#ff0000" stroke-width="1.35" stroke-opacity="0.62"/>
<polygon points="209.83,349.57 211.13,350.87 210.11,351.9 211.13,352.93 209.83,354.23 208.8,353.21 207.77,354.23 206.47,352.93 207.49,351.9 206.47,350.87 207.77,349.57 208.8,350.59" fill="none" stroke="#008000" stroke-width="1.35" stroke-opacity="0.62"/>
<circle cx="208.8" cy="351.9" r="2.29" fill="none" stroke="#008000" stroke-width="1.35" stroke-opacity="0.62"/>
<polygon points="173.83,346.27 175.13,347.57 174.11,348.6 175.13,349.63 173.83,350.93 172.8,349.91 171.77,350.93 170.47,349.63 171.49,348.6 170.47,347.57 171.77,346.27 172.8,347.29" fill="none" stroke="#008000" stroke-width="1.35" stroke-opacity="0.62"/>
<path d="M156.16 349.3H161.44M158.8 346.66V351.94" fill="none" stroke="#0000ff" stroke-width="1.35" stroke-opacity="0.62"/>
<path d="M165.76 361.8H171.04M168.4 359.16V364.44" fill="none" stroke="#0000ff" stroke-width="1.35" stroke-opacity="0.62"/>
<rect x="177.91" y="369.51" width="4.58" height="4.58" fill="none" stroke="#ffa500" stroke-width="1.35" stroke-opacity="0.62"/>
<rect x="184.51" y="381.31" width="4.58" height="4.58" fill="none" stroke="#0000ff" stroke-width="1.35" stroke-opacity="0.62"/>
<rect x="190.71" y="378.41" width="4.58" height="4.58" fill="none" stroke="#0000ff" stroke-width="1.35" stroke-opacity="0.62"/>
<rect x="201.51" y="386.01" width="4.58" height="4.58" fill="none" stroke="#ffa500" stroke-width="1.35" stroke-opacity="0.62"/>
<polygon points="233.63,389.27 234.93,390.57 233.91,391.6 234.93,392.63 233.63,393.93 232.6,392.91 231.57,393.93 230.27,392.63 231.29,391.6 230.27,390.57 231.57,389.27 232.6,390.29" fill="none" stroke="#0000ff" stroke-width="1.35" stroke-opacity="0.62"/>
<polygon points="196.03,398.47 197.33,399.77 196.31,400.8 197.33,401.83 196.03,403.13 195,402.11 193.97,403.13 192.67,401.83 193.69,400.8 192.67,399.77 193.97,398.47 195,399.49" fill="none" stroke="#0000ff" stroke-width="1.35" stroke-opacity="0.62"/>
<polygon points="203.73,396.77 205.03,398.07 204.01,399.1 205.03,400.13 203.73,401.43 202.7,400.41 201.67,401.43 200.37,400.13 201.39,399.1 200.37,398.07 201.67,396.77 202.7,397.79" fill="none" stroke="#ffa500" stroke-width="1.35" stroke-opacity="0.62"/>
<polygon points="218.53,399.97 219.83,401.27 218.81,402.3 219.83,403.33 218.53,404.63 217.5,403.61 216.47,404.63 215.17,403.33 216.19,402.3 215.17,401.27 216.47,399.97 217.5,400.99" fill="none" stroke="#ffa500" stroke-width="1.35" stroke-opacity="0.62"/>
<polygon points="222.63,401.47 223.93,402.77 222.91,403.8 223.93,404.83 222.63,406.13 221.6,405.11 220.57,406.13 219.27,404.83 220.29,403.8 219.27,402.77 220.57,401.47 221.6,402.49" fill="none" stroke="#ffa500" stroke-width="1.35" stroke-opacity="0.62"/>
<polygon points="231.13,403.27 232.43,404.57 231.41,405.6 232.43,406.63 231.13,407.93 230.1,406.91 229.07,407.93 227.77,406.63 228.79,405.6 227.77,404.57 229.07,403.27 230.1,404.29" fill="none" stroke="#0000ff" stroke-width="1.35" stroke-opacity="0.62"/>
<polygon points="240.83,403.67 242.13,404.97 241.11,406 242.13,407.03 240.83,408.33 239.8,407.31 238.77,408.33 237.47,407.03 238.49,406 237.47,404.97 238.77,403.67 239.8,404.69" fill="none" stroke="#0000ff" stroke-width="1.35" stroke-opacity="0.62"/>
<circle cx="238.2" cy="407" r="2.29" fill="none" stroke="#0000ff" stroke-width="1.35" stroke-opacity="0.62"/>
<circle cx="228.2" cy="413.7" r="2.29" fill="none" stroke="#0000ff" stroke-width="1.35" stroke-opacity="0.62"/>
<circle cx="228.2" cy="422.3" r="2.29" fill="none" stroke="#ffa500" stroke-width="1.35" stroke-opacity="0.62"/>
<polygon points="259.03,417.97 260.33,419.27 259.31,420.3 260.33,421.33 259.03,422.63 258,421.61 256.97,422.63 255.67,421.33 256.69,420.3 255.67,419.27 256.97,417.97 258,418.99" fill="none" stroke="#ffa500" stroke-width="1.35" stroke-opacity="0.62"/>
<circle cx="258.5" cy="421" r="2.29" fill="none" stroke="#ffa500" stroke-width="1.35" stroke-opacity="0.62"/>
<path d="M146.36 343.9H151.64M149 341.26V346.54" fill="none" stroke="#ffa500" stroke-width="1.35" stroke-opacity="0.62"/>
<path d="M155.36 349.3H160.64M158 346.66V351.94" fill="none" stroke="#0000ff" stroke-width="1.35" stroke-opacity="0.62"/>
<polygon points="137.93,312.97 139.23,314.27 138.21,315.3 139.23,316.33 137.93,317.63 136.9,316.61 135.87,317.63 134.57,316.33 135.59,315.3 134.57,314.27 135.87,312.97 136.9,313.99" fill="none" stroke="#0000ff" stroke-width="1.35" stroke-opacity="0.62"/>
<path d="M139.06 316.4H144.34M141.7 313.76V319.04" fill="none" stroke="#008000" stroke-width="1.35" stroke-opacity="0.62"/>
<rect x="142.71" y="317.41" width="4.58" height="4.58" fill="none" stroke="#0000ff" stroke-width="1.35" stroke-opacity="0.62"/>
<polygon points="151.63,313.27 152.93,314.57 151.91,315.6 152.93,316.63 151.63,317.93 150.6,316.91 149.57,317.93 148.27,316.63 149.29,315.6 148.27,314.57 149.57,313.27 150.6,314.29" fill="none" stroke="#008000" stroke-width="1.35" stroke-opacity="0.62"/>
<polygon points="136.53,321.37 137.83,322.67 136.81,323.7 137.83,324.73 136.53,326.03 135.5,325.01 134.47,326.03 133.17,324.73 134.19,323.7 133.17,322.67 134.47,321.37 135.5,322.39" fill="none" stroke="#008000" stroke-width="1.35" stroke-opacity="0.62"/>
<polygon points="153.43,321.07 154.73,322.37 153.71,323.4 154.73,324.43 153.43,325.73 152.4,324.71 151.37,325.73 150.07,324.43 151.09,323.4 150.07,322.37 151.37,321.07 152.4,322.09" fill="none" stroke="#0000ff" stroke-width="1.35" stroke-opacity="0.62"/>
<rect x="154.21" y="320.71" width="4.58" height="4.58" fill="none" stroke="#0000ff" stroke-width="1.35" stroke-opacity="0.62"/>
<circle cx="153.1" cy="328.1" r="2.29" fill="none" stroke="#008000" stroke-width="1.35" stroke-opacity="0.62"/>
<circle cx="168.6" cy="308.3" r="2.29" fill="none" stroke="#ffa500" stroke-width="1.35" stroke-opacity="0.62"/>
<rect x="166.31" y="315.51" width="4.58" height="4.58" fill="none" stroke="#ff0000" stroke-width="1.35" stroke-opacity="0.62"/>
<circle cx="154.6" cy="308.3" r="2.29" fill="none" stroke="#0000ff" stroke-width="1.35" stroke-opacity="0.62"/>
<circle cx="159" cy="308.3" r="2.29" fill="none" stroke="#0000ff" stroke-width="1.35" stroke-opacity="0.62"/>
<circle cx="145" cy="299" r="2.29" fill="none" stroke="#ffa500" stroke-width="1.35" stroke-opacity="0.62"/>
<circle cx="148" cy="303" r="2.29" fill="none" stroke="#ffa500" stroke-width="1.35" stroke-opacity="0.62"/>
<circle cx="146.5" cy="308" r="2.29" fill="none" stroke="#ffa500" stroke-width="1.35" stroke-opacity="0.62"/>
<polygon points="144.03,302.67 145.33,303.97 144.31,305 145.33,306.03 144.03,307.33 143,306.31 141.97,307.33 140.67,306.03 141.69,305 140.67,303.97 141.97,302.67 143,303.69" fill="none" stroke="#ffa500" stroke-width="1.35" stroke-opacity="0.62"/>
<circle cx="150" cy="311" r="2.29" fill="none" stroke="#ffa500" stroke-width="1.35" stroke-opacity="0.62"/>
<polygon points="142.03,297.67 143.33,298.97 142.31,300 143.33,301.03 142.03,302.33 141,301.31 139.97,302.33 138.67,301.03 139.69,300 138.67,298.97 139.97,297.67 141,298.69" fill="none" stroke="#ffa500" stroke-width="1.35" stroke-opacity="0.62"/>
<circle cx="149.5" cy="291.5" r="2.29" fill="none" stroke="#ff0000" stroke-width="1.35" stroke-opacity="0.62"/>
<circle cx="153" cy="293" r="2.29" fill="none" stroke="#0000ff" stroke-width="1.35" stroke-opacity="0.62"/>
<circle cx="155" cy="297" r="2.29" fill="none" stroke="#0000ff" stroke-width="1.35" stroke-opacity="0.62"/>
<polygon points="94.03,243.67 95.33,244.97 94.31,246 95.33,247.03 94.03,248.33 93,247.31 91.97,248.33 90.67,247.03 91.69,246 90.67,244.97 91.97,243.67 93,244.69" fill="none" stroke="#ff0000" stroke-width="1.35" stroke-opacity="0.62"/>
<circle cx="123.5" cy="245" r="2.29" fill="none" stroke="#ff0000" stroke-width="1.35" stroke-opacity="0.62"/>
<polygon points="123.83,236.07 125.13,237.37 124.11,238.4 125.13,239.43 123.83,240.73 122.8,239.71 121.77,240.73 120.47,239.43 121.49,238.4 120.47,237.37 121.77,236.07 122.8,237.09" fill="none" stroke="#ff0000" stroke-width="1.35" stroke-opacity="0.62"/>
<polygon points="131.53,248.67 132.83,249.97 131.81,251 132.83,252.03 131.53,253.33 130.5,252.31 129.47,253.33 128.17,252.03 129.19,251 128.17,249.97 129.47,248.67 130.5,249.69" fill="none" stroke="#0000ff" stroke-width="1.35" stroke-opacity="0.62"/>
<circle cx="130.5" cy="264.7" r="2.29" fill="none" stroke="#008000" stroke-width="1.35" stroke-opacity="0.62"/>
<polygon points="124.2,262.27 126.93,265 124.2,267.73 121.47,265" fill="none" stroke="#0000ff" stroke-width="1.35" stroke-opacity="0.62"/>
</svg>
<g opacity="0.62">
<polyline points="647.8,245.1 730.6,200.8 873.6,232.1" fill="none" stroke="#0000ff" stroke-width="1.5" stroke-linejoin="round"/>
<polygon points="649.08,242.19 650.71,243.82 649.43,245.1 650.71,246.38 649.08,248.01 647.8,246.73 646.52,248.01 644.88,246.38 646.17,245.1 644.88,243.82 646.52,242.19 647.8,243.47" fill="none" stroke="#0000ff" stroke-width="1.1"/>
<polygon points="731.88,197.89 733.51,199.52 732.23,200.8 733.51,202.08 731.88,203.72 730.6,202.43 729.32,203.72 727.69,202.08 728.97,200.8 727.69,199.52 729.32,197.89 730.6,199.17" fill="none" stroke="#0000ff" stroke-width="1.1"/>
<polygon points="874.88,229.19 876.51,230.82 875.23,232.1 876.51,233.38 874.88,235.01 873.6,233.73 872.32,235.01 870.69,233.38 871.97,232.1 870.69,230.82 872.32,229.19 873.6,230.47" fill="none" stroke="#0000ff" stroke-width="1.1"/>
</g>
<g opacity="0.62">
<polyline points="656.6,253.5 627.8,262.2 652.3,268" fill="none" stroke="#0000ff" stroke-width="1.5" stroke-linejoin="round"/>
<polygon points="657.88,250.59 659.51,252.22 658.23,253.5 659.51,254.78 657.88,256.42 656.6,255.13 655.32,256.41 653.69,254.78 654.97,253.5 653.69,252.22 655.32,250.59 656.6,251.87" fill="none" stroke="#0000ff" stroke-width="1.1"/>
<polygon points="629.08,259.28 630.71,260.92 629.43,262.2 630.71,263.48 629.08,265.12 627.8,263.83 626.52,265.12 624.88,263.48 626.17,262.2 624.88,260.92 626.52,259.28 627.8,260.57" fill="none" stroke="#0000ff" stroke-width="1.1"/>
<polygon points="653.58,265.08 655.21,266.72 653.93,268 655.21,269.28 653.58,270.92 652.3,269.63 651.02,270.92 649.38,269.28 650.67,268 649.38,266.72 651.02,265.08 652.3,266.37" fill="none" stroke="#0000ff" stroke-width="1.1"/>
</g>
<g opacity="0.62">
<polyline points="701.2,250.2 649,270 622.6,313.8" fill="none" stroke="#0000ff" stroke-width="1.5" stroke-linejoin="round"/>
<rect x="698.34" y="247.34" width="5.72" height="5.72" fill="none" stroke="#0000ff" stroke-width="1.1"/>
<rect x="646.14" y="267.14" width="5.72" height="5.72" fill="none" stroke="#0000ff" stroke-width="1.1"/>
<rect x="619.74" y="310.94" width="5.72" height="5.72" fill="none" stroke="#0000ff" stroke-width="1.1"/>
</g>
<g opacity="0.62">
<polyline points="656.1,290.4 624,297.2 651.7,298.7" fill="none" stroke="#0000ff" stroke-width="1.5" stroke-linejoin="round"/>
<circle cx="656.1" cy="290.4" r="2.86" fill="none" stroke="#0000ff" stroke-width="1.1"/>
<circle cx="624" cy="297.2" r="2.86" fill="none" stroke="#0000ff" stroke-width="1.1"/>
<circle cx="651.7" cy="298.7" r="2.86" fill="none" stroke="#0000ff" stroke-width="1.1"/>
</g>
<g opacity="0.62">
<polyline points="666.8,315.1 609.2,354.9 588.3,383.6" fill="none" stroke="#0000ff" stroke-width="1.5" stroke-linejoin="round"/>
<path d="M663.5 315.1H670.1M666.8 311.8V318.4" fill="none" stroke="#0000ff" stroke-width="1.1"/>
<path d="M605.9 354.9H612.5M609.2 351.6V358.2" fill="none" stroke="#0000ff" stroke-width="1.1"/>
<path d="M585 383.6H591.6M588.3 380.3V386.9" fill="none" stroke="#0000ff" stroke-width="1.1"/>
</g>
<g opacity="0.62">
<polyline points="669.4,286.5 631.6,305.8 612.9,344.9" fill="none" stroke="#ffa500" stroke-width="1.5" stroke-linejoin="round"/>
<polygon points="670.68,283.58 672.31,285.22 671.03,286.5 672.31,287.78 670.68,289.42 669.4,288.13 668.12,289.42 666.49,287.78 667.77,286.5 666.49,285.22 668.12,283.58 669.4,284.87" fill="none" stroke="#ffa500" stroke-width="1.1"/>
<polygon points="632.88,302.88 634.51,304.52 633.23,305.8 634.51,307.08 632.88,308.72 631.6,307.43 630.32,308.72 628.69,307.08 629.97,305.8 628.69,304.52 630.32,302.88 631.6,304.17" fill="none" stroke="#ffa500" stroke-width="1.1"/>
<polygon points="614.18,341.98 615.81,343.62 614.53,344.9 615.81,346.18 614.18,347.81 612.9,346.53 611.62,347.81 609.99,346.18 611.27,344.9 609.99,343.62 611.62,341.98 612.9,343.27" fill="none" stroke="#ffa500" stroke-width="1.1"/>
</g>
<g opacity="0.62">
<polyline points="639.1,311.6 610.2,322 624.8,330.2" fill="none" stroke="#ffa500" stroke-width="1.5" stroke-linejoin="round"/>
<polygon points="640.38,308.69 642.01,310.32 640.73,311.6 642.01,312.88 640.38,314.52 639.1,313.23 637.82,314.52 636.19,312.88 637.47,311.6 636.19,310.32 637.82,308.69 639.1,309.97" fill="none" stroke="#ffa500" stroke-width="1.1"/>
<polygon points="611.48,319.08 613.12,320.72 611.83,322 613.12,323.28 611.48,324.92 610.2,323.63 608.92,324.92 607.29,323.28 608.57,322 607.29,320.72 608.92,319.08 610.2,320.37" fill="none" stroke="#ffa500" stroke-width="1.1"/>
<polygon points="626.08,327.28 627.71,328.92 626.43,330.2 627.71,331.48 626.08,333.12 624.8,331.83 623.52,333.12 621.88,331.48 623.17,330.2 621.88,328.92 623.52,327.28 624.8,328.57" fill="none" stroke="#ffa500" stroke-width="1.1"/>
</g>
<g opacity="0.62">
<polyline points="639.8,334.3 617.5,340.8 629.4,353" fill="none" stroke="#ffa500" stroke-width="1.5" stroke-linejoin="round"/>
<circle cx="639.8" cy="334.3" r="2.86" fill="none" stroke="#ffa500" stroke-width="1.1"/>
<circle cx="617.5" cy="340.8" r="2.86" fill="none" stroke="#ffa500" stroke-width="1.1"/>
<circle cx="629.4" cy="353" r="2.86" fill="none" stroke="#ffa500" stroke-width="1.1"/>
</g>
<g opacity="0.62">
<polyline points="653.3,332.3 616,354.4 600.3,382.9" fill="none" stroke="#ffa500" stroke-width="1.5" stroke-linejoin="round"/>
<rect x="650.44" y="329.44" width="5.72" height="5.72" fill="none" stroke="#ffa500" stroke-width="1.1"/>
<rect x="613.14" y="351.54" width="5.72" height="5.72" fill="none" stroke="#ffa500" stroke-width="1.1"/>
<rect x="597.44" y="380.04" width="5.72" height="5.72" fill="none" stroke="#ffa500" stroke-width="1.1"/>
</g>
<g opacity="0.62">
<polyline points="640.5,377.9 592.9,410.5 569.9,440.3" fill="none" stroke="#ffa500" stroke-width="1.5" stroke-linejoin="round"/>
<path d="M637.2 377.9H643.8M640.5 374.6V381.2" fill="none" stroke="#ffa500" stroke-width="1.1"/>
<path d="M589.6 410.5H596.2M592.9 407.2V413.8" fill="none" stroke="#ffa500" stroke-width="1.1"/>
<path d="M566.6 440.3H573.2M569.9 437V443.6" fill="none" stroke="#ffa500" stroke-width="1.1"/>
</g>
<g opacity="0.62">
<polyline points="644.6,318.8 608.3,344.2 588.6,379.9" fill="none" stroke="#008000" stroke-width="1.5" stroke-linejoin="round"/>
<polygon points="645.88,315.88 647.51,317.52 646.23,318.8 647.51,320.08 645.88,321.72 644.6,320.43 643.32,321.72 641.69,320.08 642.97,318.8 641.69,317.52 643.32,315.88 644.6,317.17" fill="none" stroke="#008000" stroke-width="1.1"/>
<polygon points="609.58,341.28 611.21,342.92 609.93,344.2 611.21,345.48 609.58,347.12 608.3,345.83 607.02,347.12 605.38,345.48 606.67,344.2 605.38,342.92 607.02,341.28 608.3,342.57" fill="none" stroke="#008000" stroke-width="1.1"/>
<polygon points="589.88,376.98 591.51,378.62 590.23,379.9 591.51,381.18 589.88,382.81 588.6,381.53 587.32,382.81 585.69,381.18 586.97,379.9 585.69,378.62 587.32,376.98 588.6,378.27" fill="none" stroke="#008000" stroke-width="1.1"/>
</g>
<g opacity="0.62">
<polyline points="625.4,356.5 595.2,368.1 601.1,370.3" fill="none" stroke="#008000" stroke-width="1.5" stroke-linejoin="round"/>
<polygon points="626.68,353.58 628.31,355.22 627.03,356.5 628.31,357.78 626.68,359.42 625.4,358.13 624.12,359.42 622.49,357.78 623.77,356.5 622.49,355.22 624.12,353.58 625.4,354.87" fill="none" stroke="#008000" stroke-width="1.1"/>
<polygon points="596.48,365.19 598.12,366.82 596.83,368.1 598.12,369.38 596.48,371.02 595.2,369.73 593.92,371.02 592.29,369.38 593.57,368.1 592.29,366.82 593.92,365.19 595.2,366.47" fill="none" stroke="#008000" stroke-width="1.1"/>
<polygon points="602.38,367.38 604.01,369.02 602.73,370.3 604.01,371.58 602.38,373.22 601.1,371.93 599.82,373.22 598.19,371.58 599.47,370.3 598.19,369.02 599.82,367.38 601.1,368.67" fill="none" stroke="#008000" stroke-width="1.1"/>
</g>
<g opacity="0.62">
<polyline points="634,364 598,387.5 581.2,411.4" fill="none" stroke="#008000" stroke-width="1.5" stroke-linejoin="round"/>
<rect x="631.14" y="361.14" width="5.72" height="5.72" fill="none" stroke="#008000" stroke-width="1.1"/>
<rect x="595.14" y="384.64" width="5.72" height="5.72" fill="none" stroke="#008000" stroke-width="1.1"/>
<rect x="578.34" y="408.54" width="5.72" height="5.72" fill="none" stroke="#008000" stroke-width="1.1"/>
</g>
<g opacity="0.62">
<polyline points="625.8,378 596.7,387.3 602.6,389.8" fill="none" stroke="#008000" stroke-width="1.5" stroke-linejoin="round"/>
<circle cx="625.8" cy="378" r="2.86" fill="none" stroke="#008000" stroke-width="1.1"/>
<circle cx="596.7" cy="387.3" r="2.86" fill="none" stroke="#008000" stroke-width="1.1"/>
<circle cx="602.6" cy="389.8" r="2.86" fill="none" stroke="#008000" stroke-width="1.1"/>
</g>
<g opacity="0.62">
<polyline points="623.1,409.6 578.7,439.6 554.4,464.3" fill="none" stroke="#008000" stroke-width="1.5" stroke-linejoin="round"/>
<path d="M619.8 409.6H626.4M623.1 406.3V412.9" fill="none" stroke="#008000" stroke-width="1.1"/>
<path d="M575.4 439.6H582M578.7 436.3V442.9" fill="none" stroke="#008000" stroke-width="1.1"/>
<path d="M551.1 464.3H557.7M554.4 461V467.6" fill="none" stroke="#008000" stroke-width="1.1"/>
</g>
<g opacity="0.62">
<polyline points="649.5,386.9 607.7,407 584.2,436.3" fill="none" stroke="#ff0000" stroke-width="1.5" stroke-linejoin="round"/>
<polygon points="650.78,383.98 652.41,385.62 651.13,386.9 652.41,388.18 650.78,389.81 649.5,388.53 648.22,389.81 646.59,388.18 647.87,386.9 646.59,385.62 648.22,383.98 649.5,385.27" fill="none" stroke="#ff0000" stroke-width="1.1"/>
<polygon points="608.98,404.08 610.62,405.72 609.33,407 610.62,408.28 608.98,409.92 607.7,408.63 606.42,409.92 604.79,408.28 606.07,407 604.79,405.72 606.42,404.08 607.7,405.37" fill="none" stroke="#ff0000" stroke-width="1.1"/>
<polygon points="585.48,433.38 587.12,435.02 585.83,436.3 587.12,437.58 585.48,439.22 584.2,437.93 582.92,439.22 581.29,437.58 582.57,436.3 581.29,435.02 582.92,433.38 584.2,434.67" fill="none" stroke="#ff0000" stroke-width="1.1"/>
</g>
<g opacity="0.62">
<polyline points="640.5,409 601.2,419.4 593.9,427.2" fill="none" stroke="#ff0000" stroke-width="1.5" stroke-linejoin="round"/>
<polygon points="641.78,406.08 643.41,407.72 642.13,409 643.41,410.28 641.78,411.92 640.5,410.63 639.22,411.92 637.59,410.28 638.87,409 637.59,407.72 639.22,406.08 640.5,407.37" fill="none" stroke="#ff0000" stroke-width="1.1"/>
<polygon points="602.48,416.48 604.12,418.12 602.83,419.4 604.12,420.68 602.48,422.31 601.2,421.03 599.92,422.31 598.29,420.68 599.57,419.4 598.29,418.12 599.92,416.48 601.2,417.77" fill="none" stroke="#ff0000" stroke-width="1.1"/>
<polygon points="595.18,424.28 596.81,425.92 595.53,427.2 596.81,428.48 595.18,430.12 593.9,428.83 592.62,430.12 590.99,428.48 592.27,427.2 590.99,425.92 592.62,424.28 593.9,425.57" fill="none" stroke="#ff0000" stroke-width="1.1"/>
</g>
<g opacity="0.62">
<polyline points="646.3,415.1 603.2,430.3 580.2,447.9" fill="none" stroke="#ff0000" stroke-width="1.5" stroke-linejoin="round"/>
<rect x="643.44" y="412.24" width="5.72" height="5.72" fill="none" stroke="#ff0000" stroke-width="1.1"/>
<rect x="600.34" y="427.44" width="5.72" height="5.72" fill="none" stroke="#ff0000" stroke-width="1.1"/>
<rect x="577.34" y="445.04" width="5.72" height="5.72" fill="none" stroke="#ff0000" stroke-width="1.1"/>
</g>
<g opacity="0.62">
<polyline points="641,424.2 603.8,434.8 595.5,444.1" fill="none" stroke="#ff0000" stroke-width="1.5" stroke-linejoin="round"/>
<circle cx="641" cy="424.2" r="2.86" fill="none" stroke="#ff0000" stroke-width="1.1"/>
<circle cx="603.8" cy="434.8" r="2.86" fill="none" stroke="#ff0000" stroke-width="1.1"/>
<circle cx="595.5" cy="444.1" r="2.86" fill="none" stroke="#ff0000" stroke-width="1.1"/>
</g>
<g opacity="0.62">
<polyline points="635.4,449.5 584.8,469.5 553.5,487.5" fill="none" stroke="#ff0000" stroke-width="1.5" stroke-linejoin="round"/>
<path d="M632.1 449.5H638.7M635.4 446.2V452.8" fill="none" stroke="#ff0000" stroke-width="1.1"/>
<path d="M581.5 469.5H588.1M584.8 466.2V472.8" fill="none" stroke="#ff0000" stroke-width="1.1"/>
<path d="M550.2 487.5H556.8M553.5 484.2V490.8" fill="none" stroke="#ff0000" stroke-width="1.1"/>
</g>
</svg></body></html>
